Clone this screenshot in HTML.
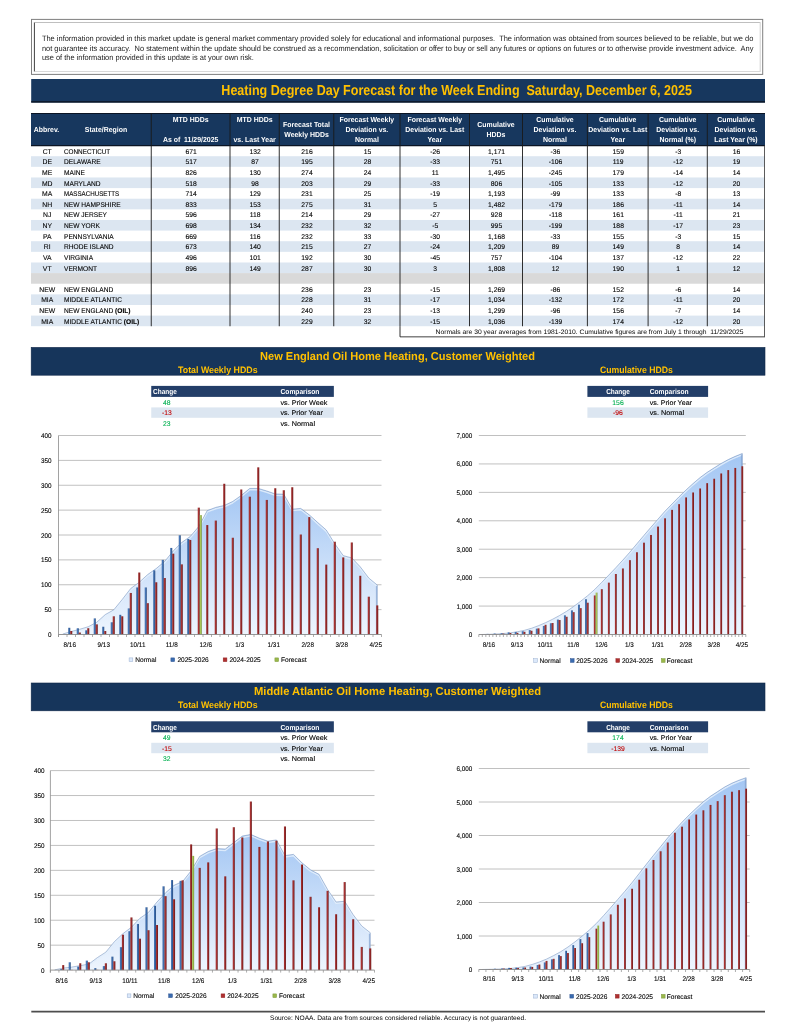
<!DOCTYPE html>
<html lang="en"><head><meta charset="utf-8"><title>Heating Degree Day Forecast</title>
<style>
html,body{margin:0;padding:0;background:#fff;}
body{width:800px;height:1035px;overflow:hidden;}
svg{display:block;font-family:"Liberation Sans", sans-serif;}
text{font-family:"Liberation Sans", sans-serif;}
</style></head><body>
<svg width="800" height="1035" viewBox="0 0 800 1035" text-rendering="geometricPrecision">
<rect x="31.50" y="19.40" width="731.20" height="55.00" fill="none" stroke="#7f7f7f" stroke-width="1"/>
<line x1="34.40" y1="22.20" x2="34.40" y2="71.80" stroke="#404040" stroke-width="1" />
<line x1="34.40" y1="22.50" x2="760.20" y2="22.50" stroke="#bfbfbf" stroke-width="1" />
<line x1="760.20" y1="22.20" x2="760.20" y2="71.80" stroke="#d0d0d0" stroke-width="1" />
<line x1="34.40" y1="71.50" x2="760.20" y2="71.50" stroke="#d9d9d9" stroke-width="1" />
<text x="41.90" y="40.60" font-size="7.8" fill="#1a1a1a" textLength="711.50" lengthAdjust="spacingAndGlyphs" xml:space="preserve">The information provided in this market update is general market commentary provided solely for educational and informational purposes.  The information was obtained from sources believed to be reliable, but we do</text>
<text x="41.90" y="50.70" font-size="7.8" fill="#1a1a1a" textLength="711.50" lengthAdjust="spacingAndGlyphs" xml:space="preserve">not guarantee its accuracy.  No statement within the update should be construed as a recommendation, solicitation or offer to buy or sell any futures or options on futures or to otherwise provide investment advice.  Any</text>
<text x="41.90" y="59.80" font-size="7.8" fill="#1a1a1a" textLength="212.00" lengthAdjust="spacingAndGlyphs" xml:space="preserve">use of the information provided in this update is at your own risk.</text>
<rect x="31.20" y="79.00" width="733.80" height="23.50" fill="#17375e" />
<rect x="31.20" y="101.20" width="733.80" height="1.40" fill="#0a1424" />
<text x="456.60" y="95.40" font-size="14.4" font-weight="bold" fill="#ffc000" text-anchor="middle" textLength="470.50" lengthAdjust="spacingAndGlyphs" xml:space="preserve">Heating Degree Day Forecast for the Week Ending  Saturday, December 6, 2025</text>
<rect x="31.00" y="113.50" width="734.00" height="32.10" fill="#17375e" />
<line x1="31.00" y1="113.50" x2="765.00" y2="113.50" stroke="#0a1424" stroke-width="1.2" />
<line x1="31.00" y1="145.60" x2="765.00" y2="145.60" stroke="#0a1424" stroke-width="1.2" />
<rect x="31.00" y="156.22" width="734.00" height="10.62" fill="#dce6f1" />
<rect x="31.00" y="177.47" width="734.00" height="10.62" fill="#dce6f1" />
<rect x="31.00" y="198.72" width="734.00" height="10.62" fill="#dce6f1" />
<rect x="31.00" y="219.97" width="734.00" height="10.62" fill="#dce6f1" />
<rect x="31.00" y="241.22" width="734.00" height="10.62" fill="#dce6f1" />
<rect x="31.00" y="262.48" width="734.00" height="10.62" fill="#dce6f1" />
<rect x="31.00" y="273.10" width="734.00" height="10.62" fill="#d9d9d9" />
<rect x="31.00" y="294.35" width="734.00" height="10.62" fill="#dce6f1" />
<rect x="31.00" y="315.60" width="734.00" height="10.62" fill="#dce6f1" />
<text transform="translate(47.20 153.70) scale(0.99 1)" font-size="6.9" text-anchor="middle" stroke="#000" stroke-width="0.1" xml:space="preserve">CT</text>
<text transform="translate(64.00 153.70) scale(0.96 1)" font-size="6.9" textLength="48.13" lengthAdjust="spacingAndGlyphs" stroke="#000" stroke-width="0.1" xml:space="preserve">CONNECTICUT</text>
<text transform="translate(191.12 153.70) scale(0.98 1)" font-size="6.9" text-anchor="middle" stroke="#000" stroke-width="0.1" xml:space="preserve">671</text>
<text transform="translate(255.12 153.70) scale(0.98 1)" font-size="6.9" text-anchor="middle" stroke="#000" stroke-width="0.1" xml:space="preserve">132</text>
<text transform="translate(307.00 153.70) scale(0.98 1)" font-size="6.9" text-anchor="middle" stroke="#000" stroke-width="0.1" xml:space="preserve">216</text>
<text transform="translate(367.38 153.70) scale(0.98 1)" font-size="6.9" text-anchor="middle" stroke="#000" stroke-width="0.1" xml:space="preserve">15</text>
<text transform="translate(435.25 153.70) scale(0.98 1)" font-size="6.9" text-anchor="middle" stroke="#000" stroke-width="0.1" xml:space="preserve">-26</text>
<text transform="translate(496.50 153.70) scale(0.98 1)" font-size="6.9" text-anchor="middle" stroke="#000" stroke-width="0.1" xml:space="preserve">1,171</text>
<text transform="translate(555.45 153.70) scale(0.98 1)" font-size="6.9" text-anchor="middle" stroke="#000" stroke-width="0.1" xml:space="preserve">-36</text>
<text transform="translate(618.25 153.70) scale(0.98 1)" font-size="6.9" text-anchor="middle" stroke="#000" stroke-width="0.1" xml:space="preserve">159</text>
<text transform="translate(678.20 153.70) scale(0.98 1)" font-size="6.9" text-anchor="middle" stroke="#000" stroke-width="0.1" xml:space="preserve">-3</text>
<text transform="translate(736.40 153.70) scale(0.98 1)" font-size="6.9" text-anchor="middle" stroke="#000" stroke-width="0.1" xml:space="preserve">16</text>
<text transform="translate(47.20 164.32) scale(0.99 1)" font-size="6.9" text-anchor="middle" stroke="#000" stroke-width="0.1" xml:space="preserve">DE</text>
<text transform="translate(64.00 164.32) scale(0.96 1)" font-size="6.9" stroke="#000" stroke-width="0.1" xml:space="preserve">DELAWARE</text>
<text transform="translate(191.12 164.32) scale(0.98 1)" font-size="6.9" text-anchor="middle" stroke="#000" stroke-width="0.1" xml:space="preserve">517</text>
<text transform="translate(255.12 164.32) scale(0.98 1)" font-size="6.9" text-anchor="middle" stroke="#000" stroke-width="0.1" xml:space="preserve">87</text>
<text transform="translate(307.00 164.32) scale(0.98 1)" font-size="6.9" text-anchor="middle" stroke="#000" stroke-width="0.1" xml:space="preserve">195</text>
<text transform="translate(367.38 164.32) scale(0.98 1)" font-size="6.9" text-anchor="middle" stroke="#000" stroke-width="0.1" xml:space="preserve">28</text>
<text transform="translate(435.25 164.32) scale(0.98 1)" font-size="6.9" text-anchor="middle" stroke="#000" stroke-width="0.1" xml:space="preserve">-33</text>
<text transform="translate(496.50 164.32) scale(0.98 1)" font-size="6.9" text-anchor="middle" stroke="#000" stroke-width="0.1" xml:space="preserve">751</text>
<text transform="translate(555.45 164.32) scale(0.98 1)" font-size="6.9" text-anchor="middle" stroke="#000" stroke-width="0.1" xml:space="preserve">-106</text>
<text transform="translate(618.25 164.32) scale(0.98 1)" font-size="6.9" text-anchor="middle" stroke="#000" stroke-width="0.1" xml:space="preserve">119</text>
<text transform="translate(678.20 164.32) scale(0.98 1)" font-size="6.9" text-anchor="middle" stroke="#000" stroke-width="0.1" xml:space="preserve">-12</text>
<text transform="translate(736.40 164.32) scale(0.98 1)" font-size="6.9" text-anchor="middle" stroke="#000" stroke-width="0.1" xml:space="preserve">19</text>
<text transform="translate(47.20 174.95) scale(0.99 1)" font-size="6.9" text-anchor="middle" stroke="#000" stroke-width="0.1" xml:space="preserve">ME</text>
<text transform="translate(64.00 174.95) scale(0.96 1)" font-size="6.9" stroke="#000" stroke-width="0.1" xml:space="preserve">MAINE</text>
<text transform="translate(191.12 174.95) scale(0.98 1)" font-size="6.9" text-anchor="middle" stroke="#000" stroke-width="0.1" xml:space="preserve">826</text>
<text transform="translate(255.12 174.95) scale(0.98 1)" font-size="6.9" text-anchor="middle" stroke="#000" stroke-width="0.1" xml:space="preserve">130</text>
<text transform="translate(307.00 174.95) scale(0.98 1)" font-size="6.9" text-anchor="middle" stroke="#000" stroke-width="0.1" xml:space="preserve">274</text>
<text transform="translate(367.38 174.95) scale(0.98 1)" font-size="6.9" text-anchor="middle" stroke="#000" stroke-width="0.1" xml:space="preserve">24</text>
<text transform="translate(435.25 174.95) scale(0.98 1)" font-size="6.9" text-anchor="middle" stroke="#000" stroke-width="0.1" xml:space="preserve">11</text>
<text transform="translate(496.50 174.95) scale(0.98 1)" font-size="6.9" text-anchor="middle" stroke="#000" stroke-width="0.1" xml:space="preserve">1,495</text>
<text transform="translate(555.45 174.95) scale(0.98 1)" font-size="6.9" text-anchor="middle" stroke="#000" stroke-width="0.1" xml:space="preserve">-245</text>
<text transform="translate(618.25 174.95) scale(0.98 1)" font-size="6.9" text-anchor="middle" stroke="#000" stroke-width="0.1" xml:space="preserve">179</text>
<text transform="translate(678.20 174.95) scale(0.98 1)" font-size="6.9" text-anchor="middle" stroke="#000" stroke-width="0.1" xml:space="preserve">-14</text>
<text transform="translate(736.40 174.95) scale(0.98 1)" font-size="6.9" text-anchor="middle" stroke="#000" stroke-width="0.1" xml:space="preserve">14</text>
<text transform="translate(47.20 185.57) scale(0.99 1)" font-size="6.9" text-anchor="middle" stroke="#000" stroke-width="0.1" xml:space="preserve">MD</text>
<text transform="translate(64.00 185.57) scale(0.96 1)" font-size="6.9" stroke="#000" stroke-width="0.1" xml:space="preserve">MARYLAND</text>
<text transform="translate(191.12 185.57) scale(0.98 1)" font-size="6.9" text-anchor="middle" stroke="#000" stroke-width="0.1" xml:space="preserve">518</text>
<text transform="translate(255.12 185.57) scale(0.98 1)" font-size="6.9" text-anchor="middle" stroke="#000" stroke-width="0.1" xml:space="preserve">98</text>
<text transform="translate(307.00 185.57) scale(0.98 1)" font-size="6.9" text-anchor="middle" stroke="#000" stroke-width="0.1" xml:space="preserve">203</text>
<text transform="translate(367.38 185.57) scale(0.98 1)" font-size="6.9" text-anchor="middle" stroke="#000" stroke-width="0.1" xml:space="preserve">29</text>
<text transform="translate(435.25 185.57) scale(0.98 1)" font-size="6.9" text-anchor="middle" stroke="#000" stroke-width="0.1" xml:space="preserve">-33</text>
<text transform="translate(496.50 185.57) scale(0.98 1)" font-size="6.9" text-anchor="middle" stroke="#000" stroke-width="0.1" xml:space="preserve">806</text>
<text transform="translate(555.45 185.57) scale(0.98 1)" font-size="6.9" text-anchor="middle" stroke="#000" stroke-width="0.1" xml:space="preserve">-105</text>
<text transform="translate(618.25 185.57) scale(0.98 1)" font-size="6.9" text-anchor="middle" stroke="#000" stroke-width="0.1" xml:space="preserve">133</text>
<text transform="translate(678.20 185.57) scale(0.98 1)" font-size="6.9" text-anchor="middle" stroke="#000" stroke-width="0.1" xml:space="preserve">-12</text>
<text transform="translate(736.40 185.57) scale(0.98 1)" font-size="6.9" text-anchor="middle" stroke="#000" stroke-width="0.1" xml:space="preserve">20</text>
<text transform="translate(47.20 196.20) scale(0.99 1)" font-size="6.9" text-anchor="middle" stroke="#000" stroke-width="0.1" xml:space="preserve">MA</text>
<text transform="translate(64.00 196.20) scale(0.96 1)" font-size="6.9" textLength="57.50" lengthAdjust="spacingAndGlyphs" stroke="#000" stroke-width="0.1" xml:space="preserve">MASSACHUSETTS</text>
<text transform="translate(191.12 196.20) scale(0.98 1)" font-size="6.9" text-anchor="middle" stroke="#000" stroke-width="0.1" xml:space="preserve">714</text>
<text transform="translate(255.12 196.20) scale(0.98 1)" font-size="6.9" text-anchor="middle" stroke="#000" stroke-width="0.1" xml:space="preserve">129</text>
<text transform="translate(307.00 196.20) scale(0.98 1)" font-size="6.9" text-anchor="middle" stroke="#000" stroke-width="0.1" xml:space="preserve">231</text>
<text transform="translate(367.38 196.20) scale(0.98 1)" font-size="6.9" text-anchor="middle" stroke="#000" stroke-width="0.1" xml:space="preserve">25</text>
<text transform="translate(435.25 196.20) scale(0.98 1)" font-size="6.9" text-anchor="middle" stroke="#000" stroke-width="0.1" xml:space="preserve">-19</text>
<text transform="translate(496.50 196.20) scale(0.98 1)" font-size="6.9" text-anchor="middle" stroke="#000" stroke-width="0.1" xml:space="preserve">1,193</text>
<text transform="translate(555.45 196.20) scale(0.98 1)" font-size="6.9" text-anchor="middle" stroke="#000" stroke-width="0.1" xml:space="preserve">-99</text>
<text transform="translate(618.25 196.20) scale(0.98 1)" font-size="6.9" text-anchor="middle" stroke="#000" stroke-width="0.1" xml:space="preserve">133</text>
<text transform="translate(678.20 196.20) scale(0.98 1)" font-size="6.9" text-anchor="middle" stroke="#000" stroke-width="0.1" xml:space="preserve">-8</text>
<text transform="translate(736.40 196.20) scale(0.98 1)" font-size="6.9" text-anchor="middle" stroke="#000" stroke-width="0.1" xml:space="preserve">13</text>
<text transform="translate(47.20 206.82) scale(0.99 1)" font-size="6.9" text-anchor="middle" stroke="#000" stroke-width="0.1" xml:space="preserve">NH</text>
<text transform="translate(64.00 206.82) scale(0.96 1)" font-size="6.9" stroke="#000" stroke-width="0.1" xml:space="preserve">NEW HAMPSHIRE</text>
<text transform="translate(191.12 206.82) scale(0.98 1)" font-size="6.9" text-anchor="middle" stroke="#000" stroke-width="0.1" xml:space="preserve">833</text>
<text transform="translate(255.12 206.82) scale(0.98 1)" font-size="6.9" text-anchor="middle" stroke="#000" stroke-width="0.1" xml:space="preserve">153</text>
<text transform="translate(307.00 206.82) scale(0.98 1)" font-size="6.9" text-anchor="middle" stroke="#000" stroke-width="0.1" xml:space="preserve">275</text>
<text transform="translate(367.38 206.82) scale(0.98 1)" font-size="6.9" text-anchor="middle" stroke="#000" stroke-width="0.1" xml:space="preserve">31</text>
<text transform="translate(435.25 206.82) scale(0.98 1)" font-size="6.9" text-anchor="middle" stroke="#000" stroke-width="0.1" xml:space="preserve">5</text>
<text transform="translate(496.50 206.82) scale(0.98 1)" font-size="6.9" text-anchor="middle" stroke="#000" stroke-width="0.1" xml:space="preserve">1,482</text>
<text transform="translate(555.45 206.82) scale(0.98 1)" font-size="6.9" text-anchor="middle" stroke="#000" stroke-width="0.1" xml:space="preserve">-179</text>
<text transform="translate(618.25 206.82) scale(0.98 1)" font-size="6.9" text-anchor="middle" stroke="#000" stroke-width="0.1" xml:space="preserve">186</text>
<text transform="translate(678.20 206.82) scale(0.98 1)" font-size="6.9" text-anchor="middle" stroke="#000" stroke-width="0.1" xml:space="preserve">-11</text>
<text transform="translate(736.40 206.82) scale(0.98 1)" font-size="6.9" text-anchor="middle" stroke="#000" stroke-width="0.1" xml:space="preserve">14</text>
<text transform="translate(47.20 217.45) scale(0.99 1)" font-size="6.9" text-anchor="middle" stroke="#000" stroke-width="0.1" xml:space="preserve">NJ</text>
<text transform="translate(64.00 217.45) scale(0.96 1)" font-size="6.9" stroke="#000" stroke-width="0.1" xml:space="preserve">NEW JERSEY</text>
<text transform="translate(191.12 217.45) scale(0.98 1)" font-size="6.9" text-anchor="middle" stroke="#000" stroke-width="0.1" xml:space="preserve">596</text>
<text transform="translate(255.12 217.45) scale(0.98 1)" font-size="6.9" text-anchor="middle" stroke="#000" stroke-width="0.1" xml:space="preserve">118</text>
<text transform="translate(307.00 217.45) scale(0.98 1)" font-size="6.9" text-anchor="middle" stroke="#000" stroke-width="0.1" xml:space="preserve">214</text>
<text transform="translate(367.38 217.45) scale(0.98 1)" font-size="6.9" text-anchor="middle" stroke="#000" stroke-width="0.1" xml:space="preserve">29</text>
<text transform="translate(435.25 217.45) scale(0.98 1)" font-size="6.9" text-anchor="middle" stroke="#000" stroke-width="0.1" xml:space="preserve">-27</text>
<text transform="translate(496.50 217.45) scale(0.98 1)" font-size="6.9" text-anchor="middle" stroke="#000" stroke-width="0.1" xml:space="preserve">928</text>
<text transform="translate(555.45 217.45) scale(0.98 1)" font-size="6.9" text-anchor="middle" stroke="#000" stroke-width="0.1" xml:space="preserve">-118</text>
<text transform="translate(618.25 217.45) scale(0.98 1)" font-size="6.9" text-anchor="middle" stroke="#000" stroke-width="0.1" xml:space="preserve">161</text>
<text transform="translate(678.20 217.45) scale(0.98 1)" font-size="6.9" text-anchor="middle" stroke="#000" stroke-width="0.1" xml:space="preserve">-11</text>
<text transform="translate(736.40 217.45) scale(0.98 1)" font-size="6.9" text-anchor="middle" stroke="#000" stroke-width="0.1" xml:space="preserve">21</text>
<text transform="translate(47.20 228.07) scale(0.99 1)" font-size="6.9" text-anchor="middle" stroke="#000" stroke-width="0.1" xml:space="preserve">NY</text>
<text transform="translate(64.00 228.07) scale(0.96 1)" font-size="6.9" stroke="#000" stroke-width="0.1" xml:space="preserve">NEW YORK</text>
<text transform="translate(191.12 228.07) scale(0.98 1)" font-size="6.9" text-anchor="middle" stroke="#000" stroke-width="0.1" xml:space="preserve">698</text>
<text transform="translate(255.12 228.07) scale(0.98 1)" font-size="6.9" text-anchor="middle" stroke="#000" stroke-width="0.1" xml:space="preserve">134</text>
<text transform="translate(307.00 228.07) scale(0.98 1)" font-size="6.9" text-anchor="middle" stroke="#000" stroke-width="0.1" xml:space="preserve">232</text>
<text transform="translate(367.38 228.07) scale(0.98 1)" font-size="6.9" text-anchor="middle" stroke="#000" stroke-width="0.1" xml:space="preserve">32</text>
<text transform="translate(435.25 228.07) scale(0.98 1)" font-size="6.9" text-anchor="middle" stroke="#000" stroke-width="0.1" xml:space="preserve">-5</text>
<text transform="translate(496.50 228.07) scale(0.98 1)" font-size="6.9" text-anchor="middle" stroke="#000" stroke-width="0.1" xml:space="preserve">995</text>
<text transform="translate(555.45 228.07) scale(0.98 1)" font-size="6.9" text-anchor="middle" stroke="#000" stroke-width="0.1" xml:space="preserve">-199</text>
<text transform="translate(618.25 228.07) scale(0.98 1)" font-size="6.9" text-anchor="middle" stroke="#000" stroke-width="0.1" xml:space="preserve">188</text>
<text transform="translate(678.20 228.07) scale(0.98 1)" font-size="6.9" text-anchor="middle" stroke="#000" stroke-width="0.1" xml:space="preserve">-17</text>
<text transform="translate(736.40 228.07) scale(0.98 1)" font-size="6.9" text-anchor="middle" stroke="#000" stroke-width="0.1" xml:space="preserve">23</text>
<text transform="translate(47.20 238.70) scale(0.99 1)" font-size="6.9" text-anchor="middle" stroke="#000" stroke-width="0.1" xml:space="preserve">PA</text>
<text transform="translate(64.00 238.70) scale(0.96 1)" font-size="6.9" stroke="#000" stroke-width="0.1" xml:space="preserve">PENNSYLVANIA</text>
<text transform="translate(191.12 238.70) scale(0.98 1)" font-size="6.9" text-anchor="middle" stroke="#000" stroke-width="0.1" xml:space="preserve">669</text>
<text transform="translate(255.12 238.70) scale(0.98 1)" font-size="6.9" text-anchor="middle" stroke="#000" stroke-width="0.1" xml:space="preserve">116</text>
<text transform="translate(307.00 238.70) scale(0.98 1)" font-size="6.9" text-anchor="middle" stroke="#000" stroke-width="0.1" xml:space="preserve">232</text>
<text transform="translate(367.38 238.70) scale(0.98 1)" font-size="6.9" text-anchor="middle" stroke="#000" stroke-width="0.1" xml:space="preserve">33</text>
<text transform="translate(435.25 238.70) scale(0.98 1)" font-size="6.9" text-anchor="middle" stroke="#000" stroke-width="0.1" xml:space="preserve">-30</text>
<text transform="translate(496.50 238.70) scale(0.98 1)" font-size="6.9" text-anchor="middle" stroke="#000" stroke-width="0.1" xml:space="preserve">1,168</text>
<text transform="translate(555.45 238.70) scale(0.98 1)" font-size="6.9" text-anchor="middle" stroke="#000" stroke-width="0.1" xml:space="preserve">-33</text>
<text transform="translate(618.25 238.70) scale(0.98 1)" font-size="6.9" text-anchor="middle" stroke="#000" stroke-width="0.1" xml:space="preserve">155</text>
<text transform="translate(678.20 238.70) scale(0.98 1)" font-size="6.9" text-anchor="middle" stroke="#000" stroke-width="0.1" xml:space="preserve">-3</text>
<text transform="translate(736.40 238.70) scale(0.98 1)" font-size="6.9" text-anchor="middle" stroke="#000" stroke-width="0.1" xml:space="preserve">15</text>
<text transform="translate(47.20 249.32) scale(0.99 1)" font-size="6.9" text-anchor="middle" stroke="#000" stroke-width="0.1" xml:space="preserve">RI</text>
<text transform="translate(64.00 249.32) scale(0.96 1)" font-size="6.9" stroke="#000" stroke-width="0.1" xml:space="preserve">RHODE ISLAND</text>
<text transform="translate(191.12 249.32) scale(0.98 1)" font-size="6.9" text-anchor="middle" stroke="#000" stroke-width="0.1" xml:space="preserve">673</text>
<text transform="translate(255.12 249.32) scale(0.98 1)" font-size="6.9" text-anchor="middle" stroke="#000" stroke-width="0.1" xml:space="preserve">140</text>
<text transform="translate(307.00 249.32) scale(0.98 1)" font-size="6.9" text-anchor="middle" stroke="#000" stroke-width="0.1" xml:space="preserve">215</text>
<text transform="translate(367.38 249.32) scale(0.98 1)" font-size="6.9" text-anchor="middle" stroke="#000" stroke-width="0.1" xml:space="preserve">27</text>
<text transform="translate(435.25 249.32) scale(0.98 1)" font-size="6.9" text-anchor="middle" stroke="#000" stroke-width="0.1" xml:space="preserve">-24</text>
<text transform="translate(496.50 249.32) scale(0.98 1)" font-size="6.9" text-anchor="middle" stroke="#000" stroke-width="0.1" xml:space="preserve">1,209</text>
<text transform="translate(555.45 249.32) scale(0.98 1)" font-size="6.9" text-anchor="middle" stroke="#000" stroke-width="0.1" xml:space="preserve">89</text>
<text transform="translate(618.25 249.32) scale(0.98 1)" font-size="6.9" text-anchor="middle" stroke="#000" stroke-width="0.1" xml:space="preserve">149</text>
<text transform="translate(678.20 249.32) scale(0.98 1)" font-size="6.9" text-anchor="middle" stroke="#000" stroke-width="0.1" xml:space="preserve">8</text>
<text transform="translate(736.40 249.32) scale(0.98 1)" font-size="6.9" text-anchor="middle" stroke="#000" stroke-width="0.1" xml:space="preserve">14</text>
<text transform="translate(47.20 259.95) scale(0.99 1)" font-size="6.9" text-anchor="middle" stroke="#000" stroke-width="0.1" xml:space="preserve">VA</text>
<text transform="translate(64.00 259.95) scale(0.96 1)" font-size="6.9" stroke="#000" stroke-width="0.1" xml:space="preserve">VIRGINIA</text>
<text transform="translate(191.12 259.95) scale(0.98 1)" font-size="6.9" text-anchor="middle" stroke="#000" stroke-width="0.1" xml:space="preserve">496</text>
<text transform="translate(255.12 259.95) scale(0.98 1)" font-size="6.9" text-anchor="middle" stroke="#000" stroke-width="0.1" xml:space="preserve">101</text>
<text transform="translate(307.00 259.95) scale(0.98 1)" font-size="6.9" text-anchor="middle" stroke="#000" stroke-width="0.1" xml:space="preserve">192</text>
<text transform="translate(367.38 259.95) scale(0.98 1)" font-size="6.9" text-anchor="middle" stroke="#000" stroke-width="0.1" xml:space="preserve">30</text>
<text transform="translate(435.25 259.95) scale(0.98 1)" font-size="6.9" text-anchor="middle" stroke="#000" stroke-width="0.1" xml:space="preserve">-45</text>
<text transform="translate(496.50 259.95) scale(0.98 1)" font-size="6.9" text-anchor="middle" stroke="#000" stroke-width="0.1" xml:space="preserve">757</text>
<text transform="translate(555.45 259.95) scale(0.98 1)" font-size="6.9" text-anchor="middle" stroke="#000" stroke-width="0.1" xml:space="preserve">-104</text>
<text transform="translate(618.25 259.95) scale(0.98 1)" font-size="6.9" text-anchor="middle" stroke="#000" stroke-width="0.1" xml:space="preserve">137</text>
<text transform="translate(678.20 259.95) scale(0.98 1)" font-size="6.9" text-anchor="middle" stroke="#000" stroke-width="0.1" xml:space="preserve">-12</text>
<text transform="translate(736.40 259.95) scale(0.98 1)" font-size="6.9" text-anchor="middle" stroke="#000" stroke-width="0.1" xml:space="preserve">22</text>
<text transform="translate(47.20 270.58) scale(0.99 1)" font-size="6.9" text-anchor="middle" stroke="#000" stroke-width="0.1" xml:space="preserve">VT</text>
<text transform="translate(64.00 270.58) scale(0.96 1)" font-size="6.9" stroke="#000" stroke-width="0.1" xml:space="preserve">VERMONT</text>
<text transform="translate(191.12 270.58) scale(0.98 1)" font-size="6.9" text-anchor="middle" stroke="#000" stroke-width="0.1" xml:space="preserve">896</text>
<text transform="translate(255.12 270.58) scale(0.98 1)" font-size="6.9" text-anchor="middle" stroke="#000" stroke-width="0.1" xml:space="preserve">149</text>
<text transform="translate(307.00 270.58) scale(0.98 1)" font-size="6.9" text-anchor="middle" stroke="#000" stroke-width="0.1" xml:space="preserve">287</text>
<text transform="translate(367.38 270.58) scale(0.98 1)" font-size="6.9" text-anchor="middle" stroke="#000" stroke-width="0.1" xml:space="preserve">30</text>
<text transform="translate(435.25 270.58) scale(0.98 1)" font-size="6.9" text-anchor="middle" stroke="#000" stroke-width="0.1" xml:space="preserve">3</text>
<text transform="translate(496.50 270.58) scale(0.98 1)" font-size="6.9" text-anchor="middle" stroke="#000" stroke-width="0.1" xml:space="preserve">1,808</text>
<text transform="translate(555.45 270.58) scale(0.98 1)" font-size="6.9" text-anchor="middle" stroke="#000" stroke-width="0.1" xml:space="preserve">12</text>
<text transform="translate(618.25 270.58) scale(0.98 1)" font-size="6.9" text-anchor="middle" stroke="#000" stroke-width="0.1" xml:space="preserve">190</text>
<text transform="translate(678.20 270.58) scale(0.98 1)" font-size="6.9" text-anchor="middle" stroke="#000" stroke-width="0.1" xml:space="preserve">1</text>
<text transform="translate(736.40 270.58) scale(0.98 1)" font-size="6.9" text-anchor="middle" stroke="#000" stroke-width="0.1" xml:space="preserve">12</text>
<text transform="translate(47.20 291.83) scale(0.99 1)" font-size="6.9" text-anchor="middle" stroke="#000" stroke-width="0.1" xml:space="preserve">NEW</text>
<text transform="translate(64.00 291.83) scale(0.96 1)" font-size="6.9" stroke="#000" stroke-width="0.1" xml:space="preserve">NEW ENGLAND</text>
<text transform="translate(307.00 291.83) scale(0.98 1)" font-size="6.9" text-anchor="middle" stroke="#000" stroke-width="0.1" xml:space="preserve">236</text>
<text transform="translate(367.38 291.83) scale(0.98 1)" font-size="6.9" text-anchor="middle" stroke="#000" stroke-width="0.1" xml:space="preserve">23</text>
<text transform="translate(435.25 291.83) scale(0.98 1)" font-size="6.9" text-anchor="middle" stroke="#000" stroke-width="0.1" xml:space="preserve">-15</text>
<text transform="translate(496.50 291.83) scale(0.98 1)" font-size="6.9" text-anchor="middle" stroke="#000" stroke-width="0.1" xml:space="preserve">1,269</text>
<text transform="translate(555.45 291.83) scale(0.98 1)" font-size="6.9" text-anchor="middle" stroke="#000" stroke-width="0.1" xml:space="preserve">-86</text>
<text transform="translate(618.25 291.83) scale(0.98 1)" font-size="6.9" text-anchor="middle" stroke="#000" stroke-width="0.1" xml:space="preserve">152</text>
<text transform="translate(678.20 291.83) scale(0.98 1)" font-size="6.9" text-anchor="middle" stroke="#000" stroke-width="0.1" xml:space="preserve">-6</text>
<text transform="translate(736.40 291.83) scale(0.98 1)" font-size="6.9" text-anchor="middle" stroke="#000" stroke-width="0.1" xml:space="preserve">14</text>
<text transform="translate(47.20 302.45) scale(0.99 1)" font-size="6.9" text-anchor="middle" stroke="#000" stroke-width="0.1" xml:space="preserve">MIA</text>
<text transform="translate(64.00 302.45) scale(0.96 1)" font-size="6.9" stroke="#000" stroke-width="0.1" xml:space="preserve">MIDDLE ATLANTIC</text>
<text transform="translate(307.00 302.45) scale(0.98 1)" font-size="6.9" text-anchor="middle" stroke="#000" stroke-width="0.1" xml:space="preserve">228</text>
<text transform="translate(367.38 302.45) scale(0.98 1)" font-size="6.9" text-anchor="middle" stroke="#000" stroke-width="0.1" xml:space="preserve">31</text>
<text transform="translate(435.25 302.45) scale(0.98 1)" font-size="6.9" text-anchor="middle" stroke="#000" stroke-width="0.1" xml:space="preserve">-17</text>
<text transform="translate(496.50 302.45) scale(0.98 1)" font-size="6.9" text-anchor="middle" stroke="#000" stroke-width="0.1" xml:space="preserve">1,034</text>
<text transform="translate(555.45 302.45) scale(0.98 1)" font-size="6.9" text-anchor="middle" stroke="#000" stroke-width="0.1" xml:space="preserve">-132</text>
<text transform="translate(618.25 302.45) scale(0.98 1)" font-size="6.9" text-anchor="middle" stroke="#000" stroke-width="0.1" xml:space="preserve">172</text>
<text transform="translate(678.20 302.45) scale(0.98 1)" font-size="6.9" text-anchor="middle" stroke="#000" stroke-width="0.1" xml:space="preserve">-11</text>
<text transform="translate(736.40 302.45) scale(0.98 1)" font-size="6.9" text-anchor="middle" stroke="#000" stroke-width="0.1" xml:space="preserve">20</text>
<text transform="translate(47.20 313.08) scale(0.99 1)" font-size="6.9" text-anchor="middle" stroke="#000" stroke-width="0.1" xml:space="preserve">NEW</text>
<text transform="translate(64 313.08) scale(0.96 1)" font-size="6.9" stroke="#000" stroke-width="0.1" xml:space="preserve">NEW ENGLAND <tspan font-weight="bold">(OIL)</tspan></text>
<text transform="translate(307.00 313.08) scale(0.98 1)" font-size="6.9" text-anchor="middle" stroke="#000" stroke-width="0.1" xml:space="preserve">240</text>
<text transform="translate(367.38 313.08) scale(0.98 1)" font-size="6.9" text-anchor="middle" stroke="#000" stroke-width="0.1" xml:space="preserve">23</text>
<text transform="translate(435.25 313.08) scale(0.98 1)" font-size="6.9" text-anchor="middle" stroke="#000" stroke-width="0.1" xml:space="preserve">-13</text>
<text transform="translate(496.50 313.08) scale(0.98 1)" font-size="6.9" text-anchor="middle" stroke="#000" stroke-width="0.1" xml:space="preserve">1,299</text>
<text transform="translate(555.45 313.08) scale(0.98 1)" font-size="6.9" text-anchor="middle" stroke="#000" stroke-width="0.1" xml:space="preserve">-96</text>
<text transform="translate(618.25 313.08) scale(0.98 1)" font-size="6.9" text-anchor="middle" stroke="#000" stroke-width="0.1" xml:space="preserve">156</text>
<text transform="translate(678.20 313.08) scale(0.98 1)" font-size="6.9" text-anchor="middle" stroke="#000" stroke-width="0.1" xml:space="preserve">-7</text>
<text transform="translate(736.40 313.08) scale(0.98 1)" font-size="6.9" text-anchor="middle" stroke="#000" stroke-width="0.1" xml:space="preserve">14</text>
<text transform="translate(47.20 323.70) scale(0.99 1)" font-size="6.9" text-anchor="middle" stroke="#000" stroke-width="0.1" xml:space="preserve">MIA</text>
<text transform="translate(64 323.70) scale(0.96 1)" font-size="6.9" stroke="#000" stroke-width="0.1" xml:space="preserve">MIDDLE ATLANTIC <tspan font-weight="bold">(OIL)</tspan></text>
<text transform="translate(307.00 323.70) scale(0.98 1)" font-size="6.9" text-anchor="middle" stroke="#000" stroke-width="0.1" xml:space="preserve">229</text>
<text transform="translate(367.38 323.70) scale(0.98 1)" font-size="6.9" text-anchor="middle" stroke="#000" stroke-width="0.1" xml:space="preserve">32</text>
<text transform="translate(435.25 323.70) scale(0.98 1)" font-size="6.9" text-anchor="middle" stroke="#000" stroke-width="0.1" xml:space="preserve">-15</text>
<text transform="translate(496.50 323.70) scale(0.98 1)" font-size="6.9" text-anchor="middle" stroke="#000" stroke-width="0.1" xml:space="preserve">1,036</text>
<text transform="translate(555.45 323.70) scale(0.98 1)" font-size="6.9" text-anchor="middle" stroke="#000" stroke-width="0.1" xml:space="preserve">-139</text>
<text transform="translate(618.25 323.70) scale(0.98 1)" font-size="6.9" text-anchor="middle" stroke="#000" stroke-width="0.1" xml:space="preserve">174</text>
<text transform="translate(678.20 323.70) scale(0.98 1)" font-size="6.9" text-anchor="middle" stroke="#000" stroke-width="0.1" xml:space="preserve">-12</text>
<text transform="translate(736.40 323.70) scale(0.98 1)" font-size="6.9" text-anchor="middle" stroke="#000" stroke-width="0.1" xml:space="preserve">20</text>
<line x1="151.25" y1="113.50" x2="151.25" y2="326.23" stroke="#1a1a1a" stroke-width="0.9" />
<line x1="230.00" y1="113.50" x2="230.00" y2="326.23" stroke="#1a1a1a" stroke-width="0.9" />
<line x1="279.25" y1="113.50" x2="279.25" y2="326.23" stroke="#1a1a1a" stroke-width="0.9" />
<line x1="333.75" y1="113.50" x2="333.75" y2="326.23" stroke="#1a1a1a" stroke-width="0.9" />
<line x1="400.00" y1="113.50" x2="400.00" y2="326.23" stroke="#1a1a1a" stroke-width="0.9" />
<line x1="469.50" y1="113.50" x2="469.50" y2="326.23" stroke="#1a1a1a" stroke-width="0.9" />
<line x1="522.50" y1="113.50" x2="522.50" y2="326.23" stroke="#1a1a1a" stroke-width="0.9" />
<line x1="587.40" y1="113.50" x2="587.40" y2="326.23" stroke="#1a1a1a" stroke-width="0.9" />
<line x1="648.10" y1="113.50" x2="648.10" y2="326.23" stroke="#1a1a1a" stroke-width="0.9" />
<line x1="707.30" y1="113.50" x2="707.30" y2="326.23" stroke="#1a1a1a" stroke-width="0.9" />
<line x1="764.50" y1="145.60" x2="764.50" y2="336.85" stroke="#4a4a4a" stroke-width="0.9" />
<line x1="400.00" y1="336.85" x2="765.00" y2="336.85" stroke="#404040" stroke-width="1" />
<line x1="400.00" y1="326.23" x2="400.00" y2="336.85" stroke="#1a1a1a" stroke-width="0.9" />
<text transform="translate(46.50 132.40) scale(0.95 1)" font-size="7.3" font-weight="bold" fill="#fff" text-anchor="middle" xml:space="preserve">Abbrev.</text>
<text transform="translate(106.00 132.40) scale(0.95 1)" font-size="7.3" font-weight="bold" fill="#fff" text-anchor="middle" xml:space="preserve">State/Region</text>
<text transform="translate(190.62 121.50) scale(0.95 1)" font-size="7.3" font-weight="bold" fill="#fff" text-anchor="middle" xml:space="preserve">MTD HDDs</text>
<text transform="translate(190.62 131.90) scale(0.95 1)" font-size="7.3" font-weight="bold" fill="#fff" text-anchor="middle" xml:space="preserve"></text>
<text transform="translate(190.62 142.40) scale(0.95 1)" font-size="7.3" font-weight="bold" fill="#fff" text-anchor="middle" xml:space="preserve">As of  11/29/2025</text>
<text transform="translate(254.62 121.50) scale(0.95 1)" font-size="7.3" font-weight="bold" fill="#fff" text-anchor="middle" xml:space="preserve">MTD HDDs</text>
<text transform="translate(254.62 131.90) scale(0.95 1)" font-size="7.3" font-weight="bold" fill="#fff" text-anchor="middle" xml:space="preserve"></text>
<text transform="translate(254.62 142.40) scale(0.95 1)" font-size="7.3" font-weight="bold" fill="#fff" text-anchor="middle" xml:space="preserve">vs. Last Year</text>
<text transform="translate(306.50 126.80) scale(0.95 1)" font-size="7.3" font-weight="bold" fill="#fff" text-anchor="middle" xml:space="preserve">Forecast Total</text>
<text transform="translate(306.50 137.10) scale(0.95 1)" font-size="7.3" font-weight="bold" fill="#fff" text-anchor="middle" xml:space="preserve">Weekly HDDs</text>
<text transform="translate(366.88 121.50) scale(0.95 1)" font-size="7.3" font-weight="bold" fill="#fff" text-anchor="middle" xml:space="preserve">Forecast Weekly</text>
<text transform="translate(366.88 131.90) scale(0.95 1)" font-size="7.3" font-weight="bold" fill="#fff" text-anchor="middle" xml:space="preserve">Deviation vs.</text>
<text transform="translate(366.88 142.40) scale(0.95 1)" font-size="7.3" font-weight="bold" fill="#fff" text-anchor="middle" xml:space="preserve">Normal</text>
<text transform="translate(434.75 121.50) scale(0.95 1)" font-size="7.3" font-weight="bold" fill="#fff" text-anchor="middle" xml:space="preserve">Forecast Weekly</text>
<text transform="translate(434.75 131.90) scale(0.95 1)" font-size="7.3" font-weight="bold" fill="#fff" text-anchor="middle" xml:space="preserve">Deviation vs. Last</text>
<text transform="translate(434.75 142.40) scale(0.95 1)" font-size="7.3" font-weight="bold" fill="#fff" text-anchor="middle" xml:space="preserve">Year</text>
<text transform="translate(496.00 126.80) scale(0.95 1)" font-size="7.3" font-weight="bold" fill="#fff" text-anchor="middle" xml:space="preserve">Cumulative</text>
<text transform="translate(496.00 137.10) scale(0.95 1)" font-size="7.3" font-weight="bold" fill="#fff" text-anchor="middle" xml:space="preserve">HDDs</text>
<text transform="translate(554.95 121.50) scale(0.95 1)" font-size="7.3" font-weight="bold" fill="#fff" text-anchor="middle" xml:space="preserve">Cumulative</text>
<text transform="translate(554.95 131.90) scale(0.95 1)" font-size="7.3" font-weight="bold" fill="#fff" text-anchor="middle" xml:space="preserve">Deviation vs.</text>
<text transform="translate(554.95 142.40) scale(0.95 1)" font-size="7.3" font-weight="bold" fill="#fff" text-anchor="middle" xml:space="preserve">Normal</text>
<text transform="translate(617.75 121.50) scale(0.95 1)" font-size="7.3" font-weight="bold" fill="#fff" text-anchor="middle" xml:space="preserve">Cumulative</text>
<text transform="translate(617.75 131.90) scale(0.95 1)" font-size="7.3" font-weight="bold" fill="#fff" text-anchor="middle" xml:space="preserve">Deviation vs. Last</text>
<text transform="translate(617.75 142.40) scale(0.95 1)" font-size="7.3" font-weight="bold" fill="#fff" text-anchor="middle" xml:space="preserve">Year</text>
<text transform="translate(677.70 121.50) scale(0.95 1)" font-size="7.3" font-weight="bold" fill="#fff" text-anchor="middle" xml:space="preserve">Cumulative</text>
<text transform="translate(677.70 131.90) scale(0.95 1)" font-size="7.3" font-weight="bold" fill="#fff" text-anchor="middle" xml:space="preserve">Deviation vs.</text>
<text transform="translate(677.70 142.40) scale(0.95 1)" font-size="7.3" font-weight="bold" fill="#fff" text-anchor="middle" xml:space="preserve">Normal (%)</text>
<text transform="translate(735.90 121.50) scale(0.95 1)" font-size="7.3" font-weight="bold" fill="#fff" text-anchor="middle" xml:space="preserve">Cumulative</text>
<text transform="translate(735.90 131.90) scale(0.95 1)" font-size="7.3" font-weight="bold" fill="#fff" text-anchor="middle" xml:space="preserve">Deviation vs.</text>
<text transform="translate(735.90 142.40) scale(0.95 1)" font-size="7.3" font-weight="bold" fill="#fff" text-anchor="middle" xml:space="preserve">Last Year (%)</text>
<text x="743.60" y="334.23" font-size="6.5" text-anchor="end" textLength="308.00" lengthAdjust="spacingAndGlyphs" xml:space="preserve">Normals are 30 year averages from 1981-2010. Cumulative figures are from July 1 through  11/29/2025</text>
<rect x="31.20" y="347.40" width="733.80" height="27.80" fill="#16355b" stroke="#0f2748" stroke-width="0.6"/>
<text x="397.50" y="359.50" font-size="11.5" font-weight="bold" fill="#ffc000" text-anchor="middle" textLength="275.00" lengthAdjust="spacingAndGlyphs" xml:space="preserve">New England Oil Home Heating, Customer Weighted</text>
<text x="217.80" y="372.60" font-size="9.3" font-weight="bold" fill="#ffc000" text-anchor="middle" textLength="79.50" lengthAdjust="spacingAndGlyphs" xml:space="preserve">Total Weekly HDDs</text>
<text x="636.40" y="372.60" font-size="9.3" font-weight="bold" fill="#ffc000" text-anchor="middle" textLength="73.00" lengthAdjust="spacingAndGlyphs" xml:space="preserve">Cumulative HDDs</text>
<rect x="151.25" y="385.90" width="182.60" height="11.00" fill="#233e68" />
<text x="153.00" y="394.20" font-size="7.3" font-weight="bold" fill="#fff" textLength="23.75" lengthAdjust="spacingAndGlyphs" xml:space="preserve">Change</text>
<text x="280.50" y="394.20" font-size="7.3" font-weight="bold" fill="#fff" textLength="38.90" lengthAdjust="spacingAndGlyphs" xml:space="preserve">Comparison</text>
<rect x="151.25" y="407.40" width="182.60" height="10.40" fill="#dce6f1" />
<text transform="translate(166.80 404.90) scale(0.98 1)" font-size="6.9" fill="#00b050" text-anchor="middle" stroke="#00b050" stroke-width="0.1" xml:space="preserve">48</text>
<text x="280.50" y="404.90" font-size="6.8" textLength="47.00" lengthAdjust="spacingAndGlyphs" stroke="#000" stroke-width="0.1" xml:space="preserve">vs. Prior Week</text>
<text transform="translate(166.80 415.30) scale(0.98 1)" font-size="6.9" fill="#c00000" text-anchor="middle" stroke="#c00000" stroke-width="0.1" xml:space="preserve">-13</text>
<text x="280.50" y="415.30" font-size="6.8" textLength="42.30" lengthAdjust="spacingAndGlyphs" stroke="#000" stroke-width="0.1" xml:space="preserve">vs. Prior Year</text>
<text transform="translate(166.80 425.70) scale(0.98 1)" font-size="6.9" fill="#00b050" text-anchor="middle" stroke="#00b050" stroke-width="0.1" xml:space="preserve">23</text>
<text x="280.50" y="425.70" font-size="6.8" textLength="34.50" lengthAdjust="spacingAndGlyphs" stroke="#000" stroke-width="0.1" xml:space="preserve">vs. Normal</text>
<rect x="587.40" y="385.90" width="120.70" height="11.00" fill="#233e68" />
<text x="618.00" y="394.20" font-size="7.3" font-weight="bold" fill="#fff" text-anchor="middle" textLength="23.75" lengthAdjust="spacingAndGlyphs" xml:space="preserve">Change</text>
<text x="649.70" y="394.20" font-size="7.3" font-weight="bold" fill="#fff" textLength="38.90" lengthAdjust="spacingAndGlyphs" xml:space="preserve">Comparison</text>
<rect x="587.40" y="407.40" width="120.70" height="10.40" fill="#dce6f1" />
<text transform="translate(618.00 404.90) scale(0.98 1)" font-size="6.9" fill="#00b050" text-anchor="middle" stroke="#00b050" stroke-width="0.1" xml:space="preserve">156</text>
<text x="649.70" y="404.90" font-size="6.8" textLength="42.30" lengthAdjust="spacingAndGlyphs" stroke="#000" stroke-width="0.1" xml:space="preserve">vs. Prior Year</text>
<text transform="translate(618.00 415.30) scale(0.98 1)" font-size="6.9" fill="#c00000" text-anchor="middle" stroke="#c00000" stroke-width="0.1" xml:space="preserve">-96</text>
<text x="649.70" y="415.30" font-size="6.8" textLength="34.50" lengthAdjust="spacingAndGlyphs" stroke="#000" stroke-width="0.1" xml:space="preserve">vs. Normal</text>
<rect x="31.20" y="683.00" width="733.80" height="27.80" fill="#16355b" stroke="#0f2748" stroke-width="0.6"/>
<text x="397.50" y="695.10" font-size="11.5" font-weight="bold" fill="#ffc000" text-anchor="middle" textLength="287.00" lengthAdjust="spacingAndGlyphs" xml:space="preserve">Middle Atlantic Oil Home Heating, Customer Weighted</text>
<text x="217.80" y="708.20" font-size="9.3" font-weight="bold" fill="#ffc000" text-anchor="middle" textLength="79.50" lengthAdjust="spacingAndGlyphs" xml:space="preserve">Total Weekly HDDs</text>
<text x="636.40" y="708.20" font-size="9.3" font-weight="bold" fill="#ffc000" text-anchor="middle" textLength="73.00" lengthAdjust="spacingAndGlyphs" xml:space="preserve">Cumulative HDDs</text>
<rect x="151.25" y="721.30" width="182.60" height="11.00" fill="#233e68" />
<text x="153.00" y="729.60" font-size="7.3" font-weight="bold" fill="#fff" textLength="23.75" lengthAdjust="spacingAndGlyphs" xml:space="preserve">Change</text>
<text x="280.50" y="729.60" font-size="7.3" font-weight="bold" fill="#fff" textLength="38.90" lengthAdjust="spacingAndGlyphs" xml:space="preserve">Comparison</text>
<rect x="151.25" y="742.80" width="182.60" height="10.40" fill="#dce6f1" />
<text transform="translate(166.80 740.30) scale(0.98 1)" font-size="6.9" fill="#00b050" text-anchor="middle" stroke="#00b050" stroke-width="0.1" xml:space="preserve">49</text>
<text x="280.50" y="740.30" font-size="6.8" textLength="47.00" lengthAdjust="spacingAndGlyphs" stroke="#000" stroke-width="0.1" xml:space="preserve">vs. Prior Week</text>
<text transform="translate(166.80 750.70) scale(0.98 1)" font-size="6.9" fill="#c00000" text-anchor="middle" stroke="#c00000" stroke-width="0.1" xml:space="preserve">-15</text>
<text x="280.50" y="750.70" font-size="6.8" textLength="42.30" lengthAdjust="spacingAndGlyphs" stroke="#000" stroke-width="0.1" xml:space="preserve">vs. Prior Year</text>
<text transform="translate(166.80 761.10) scale(0.98 1)" font-size="6.9" fill="#00b050" text-anchor="middle" stroke="#00b050" stroke-width="0.1" xml:space="preserve">32</text>
<text x="280.50" y="761.10" font-size="6.8" textLength="34.50" lengthAdjust="spacingAndGlyphs" stroke="#000" stroke-width="0.1" xml:space="preserve">vs. Normal</text>
<rect x="587.40" y="721.30" width="120.70" height="11.00" fill="#233e68" />
<text x="618.00" y="729.60" font-size="7.3" font-weight="bold" fill="#fff" text-anchor="middle" textLength="23.75" lengthAdjust="spacingAndGlyphs" xml:space="preserve">Change</text>
<text x="649.70" y="729.60" font-size="7.3" font-weight="bold" fill="#fff" textLength="38.90" lengthAdjust="spacingAndGlyphs" xml:space="preserve">Comparison</text>
<rect x="587.40" y="742.80" width="120.70" height="10.40" fill="#dce6f1" />
<text transform="translate(618.00 740.30) scale(0.98 1)" font-size="6.9" fill="#00b050" text-anchor="middle" stroke="#00b050" stroke-width="0.1" xml:space="preserve">174</text>
<text x="649.70" y="740.30" font-size="6.8" textLength="42.30" lengthAdjust="spacingAndGlyphs" stroke="#000" stroke-width="0.1" xml:space="preserve">vs. Prior Year</text>
<text transform="translate(618.00 750.70) scale(0.98 1)" font-size="6.9" fill="#c00000" text-anchor="middle" stroke="#c00000" stroke-width="0.1" xml:space="preserve">-139</text>
<text x="649.70" y="750.70" font-size="6.8" textLength="34.50" lengthAdjust="spacingAndGlyphs" stroke="#000" stroke-width="0.1" xml:space="preserve">vs. Normal</text>
<defs>
<linearGradient id="gA" x1="0" y1="0" x2="0" y2="1"><stop offset="0" stop-color="#a3c6f3"/><stop offset="1" stop-color="#eef5fe"/></linearGradient>
<linearGradient id="gR" x1="0" y1="0" x2="1" y2="0"><stop offset="0" stop-color="#922222"/><stop offset="0.4" stop-color="#aa3232"/><stop offset="1" stop-color="#5c0e0e"/></linearGradient>
<linearGradient id="gB" x1="0" y1="0" x2="1" y2="0"><stop offset="0" stop-color="#33609f"/><stop offset="0.4" stop-color="#4576b8"/><stop offset="1" stop-color="#1f4274"/></linearGradient>
<linearGradient id="gG" x1="0" y1="0" x2="1" y2="0"><stop offset="0" stop-color="#9ab84a"/><stop offset="0.45" stop-color="#aac85a"/><stop offset="1" stop-color="#6e8a2a"/></linearGradient>
</defs>
<text transform="translate(51.60 637.00) scale(0.95 1)" font-size="6.7" text-anchor="end" stroke="#000" stroke-width="0.1" xml:space="preserve">0</text>
<line x1="58.50" y1="609.62" x2="381.50" y2="609.62" stroke="#ababab" stroke-width="0.75" />
<text transform="translate(51.60 612.12) scale(0.95 1)" font-size="6.7" text-anchor="end" stroke="#000" stroke-width="0.1" xml:space="preserve">50</text>
<line x1="58.50" y1="584.75" x2="381.50" y2="584.75" stroke="#ababab" stroke-width="0.75" />
<text transform="translate(51.60 587.25) scale(0.95 1)" font-size="6.7" text-anchor="end" stroke="#000" stroke-width="0.1" xml:space="preserve">100</text>
<line x1="58.50" y1="559.88" x2="381.50" y2="559.88" stroke="#ababab" stroke-width="0.75" />
<text transform="translate(51.60 562.38) scale(0.95 1)" font-size="6.7" text-anchor="end" stroke="#000" stroke-width="0.1" xml:space="preserve">150</text>
<line x1="58.50" y1="535.00" x2="381.50" y2="535.00" stroke="#ababab" stroke-width="0.75" />
<text transform="translate(51.60 537.50) scale(0.95 1)" font-size="6.7" text-anchor="end" stroke="#000" stroke-width="0.1" xml:space="preserve">200</text>
<line x1="58.50" y1="510.12" x2="381.50" y2="510.12" stroke="#ababab" stroke-width="0.75" />
<text transform="translate(51.60 512.62) scale(0.95 1)" font-size="6.7" text-anchor="end" stroke="#000" stroke-width="0.1" xml:space="preserve">250</text>
<line x1="58.50" y1="485.25" x2="381.50" y2="485.25" stroke="#ababab" stroke-width="0.75" />
<text transform="translate(51.60 487.75) scale(0.95 1)" font-size="6.7" text-anchor="end" stroke="#000" stroke-width="0.1" xml:space="preserve">300</text>
<line x1="58.50" y1="460.38" x2="381.50" y2="460.38" stroke="#ababab" stroke-width="0.75" />
<text transform="translate(51.60 462.88) scale(0.95 1)" font-size="6.7" text-anchor="end" stroke="#000" stroke-width="0.1" xml:space="preserve">350</text>
<line x1="58.50" y1="435.50" x2="381.50" y2="435.50" stroke="#ababab" stroke-width="0.75" />
<text transform="translate(51.60 438.00) scale(0.95 1)" font-size="6.7" text-anchor="end" stroke="#000" stroke-width="0.1" xml:space="preserve">400</text>
<path d="M62.75,634.50 L62.75,634.00 L71.25,631.51 L79.75,629.28 L88.25,626.74 L96.75,622.26 L105.25,614.60 L113.75,609.87 L122.25,599.43 L130.75,588.48 L139.25,582.26 L147.75,574.50 L156.25,568.53 L164.75,561.37 L173.25,550.92 L181.75,542.46 L190.25,536.49 L198.75,526.54 L207.25,510.62 L215.75,507.39 L224.25,505.45 L232.75,501.42 L241.25,495.45 L249.75,488.43 L258.25,488.43 L266.75,490.97 L275.25,493.96 L283.75,494.21 L292.25,509.13 L300.75,508.43 L309.25,514.85 L317.75,522.56 L326.25,530.02 L334.75,543.71 L343.25,555.65 L351.75,557.88 L360.25,566.84 L368.75,578.03 L377.25,585.05 L377.25,634.50 Z" fill="url(#gA)"/>
<clipPath id="c58_435"><path d="M62.75,634.50 L62.75,634.00 L71.25,631.51 L79.75,629.28 L88.25,626.74 L96.75,622.26 L105.25,614.60 L113.75,609.87 L122.25,599.43 L130.75,588.48 L139.25,582.26 L147.75,574.50 L156.25,568.53 L164.75,561.37 L173.25,550.92 L181.75,542.46 L190.25,536.49 L198.75,526.54 L207.25,510.62 L215.75,507.39 L224.25,505.45 L232.75,501.42 L241.25,495.45 L249.75,488.43 L258.25,488.43 L266.75,490.97 L275.25,493.96 L283.75,494.21 L292.25,509.13 L300.75,508.43 L309.25,514.85 L317.75,522.56 L326.25,530.02 L334.75,543.71 L343.25,555.65 L351.75,557.88 L360.25,566.84 L368.75,578.03 L377.25,585.05 L377.25,634.50 Z"/></clipPath>
<path d="M62.75,635.30 L71.25,632.81 L79.75,630.58 L88.25,628.04 L96.75,623.56 L105.25,615.90 L113.75,611.17 L122.25,600.73 L130.75,589.78 L139.25,583.56 L147.75,575.80 L156.25,569.83 L164.75,562.67 L173.25,552.22 L181.75,543.76 L190.25,537.79 L198.75,527.84 L207.25,511.92 L215.75,508.69 L224.25,506.75 L232.75,502.72 L241.25,496.75 L249.75,489.73 L258.25,489.73 L266.75,492.27 L275.25,495.26 L283.75,495.51 L292.25,510.43 L300.75,509.73 L309.25,516.15 L317.75,523.86 L326.25,531.32 L334.75,545.01 L343.25,556.95 L351.75,559.18 L360.25,568.14 L368.75,579.33 L377.25,586.35" fill="none" stroke="#e3eefc" stroke-opacity="0.85" stroke-width="1.5" stroke-linejoin="round" clip-path="url(#c58_435)"/>
<line x1="376.55" y1="586.05" x2="376.55" y2="634.50" stroke="#86a6d4" stroke-opacity="0.7" stroke-width="1.3"/>
<path d="M62.75,634.00 L71.25,631.51 L79.75,629.28 L88.25,626.74 L96.75,622.26 L105.25,614.60 L113.75,609.87 L122.25,599.43 L130.75,588.48 L139.25,582.26 L147.75,574.50 L156.25,568.53 L164.75,561.37 L173.25,550.92 L181.75,542.46 L190.25,536.49 L198.75,526.54 L207.25,510.62 L215.75,507.39 L224.25,505.45 L232.75,501.42 L241.25,495.45 L249.75,488.43 L258.25,488.43 L266.75,490.97 L275.25,493.96 L283.75,494.21 L292.25,509.13 L300.75,508.43 L309.25,514.85 L317.75,522.56 L326.25,530.02 L334.75,543.71 L343.25,555.65 L351.75,557.88 L360.25,566.84 L368.75,578.03 L377.25,585.05 L377.25,634.50" fill="none" stroke="#7f9bc2" stroke-width="0.6" stroke-linejoin="round"/>
<rect x="68.25" y="627.78" width="2.00" height="6.72" fill="url(#gB)" />
<rect x="76.75" y="628.23" width="2.00" height="6.27" fill="url(#gB)" />
<rect x="85.25" y="630.32" width="2.00" height="4.18" fill="url(#gB)" />
<rect x="93.75" y="618.38" width="2.00" height="16.12" fill="url(#gB)" />
<rect x="102.25" y="626.74" width="2.00" height="7.76" fill="url(#gB)" />
<rect x="110.75" y="622.26" width="2.00" height="12.24" fill="url(#gB)" />
<rect x="119.25" y="614.80" width="2.00" height="19.70" fill="url(#gB)" />
<rect x="127.75" y="608.38" width="2.00" height="26.12" fill="url(#gB)" />
<rect x="136.25" y="587.44" width="2.00" height="47.06" fill="url(#gB)" />
<rect x="144.75" y="587.44" width="2.00" height="47.06" fill="url(#gB)" />
<rect x="153.25" y="570.32" width="2.00" height="64.18" fill="url(#gB)" />
<rect x="161.75" y="559.88" width="2.00" height="74.62" fill="url(#gB)" />
<rect x="170.25" y="547.93" width="2.00" height="86.57" fill="url(#gB)" />
<rect x="178.75" y="535.25" width="2.00" height="99.25" fill="url(#gB)" />
<rect x="187.25" y="538.98" width="2.00" height="95.52" fill="url(#gB)" />
<rect x="70.25" y="631.02" width="2.00" height="3.48" fill="url(#gR)" />
<rect x="78.75" y="632.51" width="2.00" height="1.99" fill="url(#gR)" />
<rect x="87.25" y="628.23" width="2.00" height="6.27" fill="url(#gR)" />
<rect x="95.75" y="624.35" width="2.00" height="10.15" fill="url(#gR)" />
<rect x="104.25" y="631.02" width="2.00" height="3.48" fill="url(#gR)" />
<rect x="112.75" y="616.29" width="2.00" height="18.21" fill="url(#gR)" />
<rect x="121.25" y="616.29" width="2.00" height="18.21" fill="url(#gR)" />
<rect x="129.75" y="592.96" width="2.00" height="41.54" fill="url(#gR)" />
<rect x="138.25" y="572.51" width="2.00" height="61.99" fill="url(#gR)" />
<rect x="146.75" y="603.16" width="2.00" height="31.34" fill="url(#gR)" />
<rect x="155.25" y="582.26" width="2.00" height="52.24" fill="url(#gR)" />
<rect x="163.75" y="578.03" width="2.00" height="56.47" fill="url(#gR)" />
<rect x="172.25" y="553.66" width="2.00" height="80.84" fill="url(#gR)" />
<rect x="180.75" y="564.35" width="2.00" height="70.15" fill="url(#gR)" />
<rect x="189.25" y="539.98" width="2.00" height="94.52" fill="url(#gR)" />
<rect x="197.75" y="507.64" width="2.00" height="126.86" fill="url(#gR)" />
<rect x="206.25" y="525.05" width="2.00" height="109.45" fill="url(#gR)" />
<rect x="214.75" y="520.57" width="2.00" height="113.93" fill="url(#gR)" />
<rect x="223.25" y="483.76" width="2.00" height="150.74" fill="url(#gR)" />
<rect x="231.75" y="537.74" width="2.00" height="96.76" fill="url(#gR)" />
<rect x="240.25" y="489.48" width="2.00" height="145.02" fill="url(#gR)" />
<rect x="248.75" y="496.69" width="2.00" height="137.81" fill="url(#gR)" />
<rect x="257.25" y="467.34" width="2.00" height="167.16" fill="url(#gR)" />
<rect x="265.75" y="499.93" width="2.00" height="134.57" fill="url(#gR)" />
<rect x="274.25" y="488.24" width="2.00" height="146.26" fill="url(#gR)" />
<rect x="282.75" y="490.23" width="2.00" height="144.27" fill="url(#gR)" />
<rect x="291.25" y="487.24" width="2.00" height="147.26" fill="url(#gR)" />
<rect x="299.75" y="534.50" width="2.00" height="100.00" fill="url(#gR)" />
<rect x="308.25" y="517.09" width="2.00" height="117.41" fill="url(#gR)" />
<rect x="316.75" y="548.18" width="2.00" height="86.32" fill="url(#gR)" />
<rect x="325.25" y="564.60" width="2.00" height="69.90" fill="url(#gR)" />
<rect x="333.75" y="541.72" width="2.00" height="92.78" fill="url(#gR)" />
<rect x="342.25" y="557.39" width="2.00" height="77.11" fill="url(#gR)" />
<rect x="350.75" y="542.46" width="2.00" height="92.04" fill="url(#gR)" />
<rect x="359.25" y="575.79" width="2.00" height="58.71" fill="url(#gR)" />
<rect x="367.75" y="596.69" width="2.00" height="37.81" fill="url(#gR)" />
<rect x="376.25" y="605.40" width="2.00" height="29.10" fill="url(#gR)" />
<rect x="199.75" y="515.10" width="2.00" height="119.40" fill="url(#gG)" />
<line x1="58.50" y1="435.50" x2="58.50" y2="637.00" stroke="#8a8a8a" stroke-width="0.8" />
<line x1="58.50" y1="634.50" x2="381.50" y2="634.50" stroke="#8a8a8a" stroke-width="0.9" />
<line x1="58.50" y1="634.50" x2="58.50" y2="637.00" stroke="#8a8a8a" stroke-width="0.7" />
<line x1="67.00" y1="634.50" x2="67.00" y2="637.00" stroke="#8a8a8a" stroke-width="0.7" />
<line x1="75.50" y1="634.50" x2="75.50" y2="637.00" stroke="#8a8a8a" stroke-width="0.7" />
<line x1="84.00" y1="634.50" x2="84.00" y2="637.00" stroke="#8a8a8a" stroke-width="0.7" />
<line x1="92.50" y1="634.50" x2="92.50" y2="637.00" stroke="#8a8a8a" stroke-width="0.7" />
<line x1="101.00" y1="634.50" x2="101.00" y2="637.00" stroke="#8a8a8a" stroke-width="0.7" />
<line x1="109.50" y1="634.50" x2="109.50" y2="637.00" stroke="#8a8a8a" stroke-width="0.7" />
<line x1="118.00" y1="634.50" x2="118.00" y2="637.00" stroke="#8a8a8a" stroke-width="0.7" />
<line x1="126.50" y1="634.50" x2="126.50" y2="637.00" stroke="#8a8a8a" stroke-width="0.7" />
<line x1="135.00" y1="634.50" x2="135.00" y2="637.00" stroke="#8a8a8a" stroke-width="0.7" />
<line x1="143.50" y1="634.50" x2="143.50" y2="637.00" stroke="#8a8a8a" stroke-width="0.7" />
<line x1="152.00" y1="634.50" x2="152.00" y2="637.00" stroke="#8a8a8a" stroke-width="0.7" />
<line x1="160.50" y1="634.50" x2="160.50" y2="637.00" stroke="#8a8a8a" stroke-width="0.7" />
<line x1="169.00" y1="634.50" x2="169.00" y2="637.00" stroke="#8a8a8a" stroke-width="0.7" />
<line x1="177.50" y1="634.50" x2="177.50" y2="637.00" stroke="#8a8a8a" stroke-width="0.7" />
<line x1="186.00" y1="634.50" x2="186.00" y2="637.00" stroke="#8a8a8a" stroke-width="0.7" />
<line x1="194.50" y1="634.50" x2="194.50" y2="637.00" stroke="#8a8a8a" stroke-width="0.7" />
<line x1="203.00" y1="634.50" x2="203.00" y2="637.00" stroke="#8a8a8a" stroke-width="0.7" />
<line x1="211.50" y1="634.50" x2="211.50" y2="637.00" stroke="#8a8a8a" stroke-width="0.7" />
<line x1="220.00" y1="634.50" x2="220.00" y2="637.00" stroke="#8a8a8a" stroke-width="0.7" />
<line x1="228.50" y1="634.50" x2="228.50" y2="637.00" stroke="#8a8a8a" stroke-width="0.7" />
<line x1="237.00" y1="634.50" x2="237.00" y2="637.00" stroke="#8a8a8a" stroke-width="0.7" />
<line x1="245.50" y1="634.50" x2="245.50" y2="637.00" stroke="#8a8a8a" stroke-width="0.7" />
<line x1="254.00" y1="634.50" x2="254.00" y2="637.00" stroke="#8a8a8a" stroke-width="0.7" />
<line x1="262.50" y1="634.50" x2="262.50" y2="637.00" stroke="#8a8a8a" stroke-width="0.7" />
<line x1="271.00" y1="634.50" x2="271.00" y2="637.00" stroke="#8a8a8a" stroke-width="0.7" />
<line x1="279.50" y1="634.50" x2="279.50" y2="637.00" stroke="#8a8a8a" stroke-width="0.7" />
<line x1="288.00" y1="634.50" x2="288.00" y2="637.00" stroke="#8a8a8a" stroke-width="0.7" />
<line x1="296.50" y1="634.50" x2="296.50" y2="637.00" stroke="#8a8a8a" stroke-width="0.7" />
<line x1="305.00" y1="634.50" x2="305.00" y2="637.00" stroke="#8a8a8a" stroke-width="0.7" />
<line x1="313.50" y1="634.50" x2="313.50" y2="637.00" stroke="#8a8a8a" stroke-width="0.7" />
<line x1="322.00" y1="634.50" x2="322.00" y2="637.00" stroke="#8a8a8a" stroke-width="0.7" />
<line x1="330.50" y1="634.50" x2="330.50" y2="637.00" stroke="#8a8a8a" stroke-width="0.7" />
<line x1="339.00" y1="634.50" x2="339.00" y2="637.00" stroke="#8a8a8a" stroke-width="0.7" />
<line x1="347.50" y1="634.50" x2="347.50" y2="637.00" stroke="#8a8a8a" stroke-width="0.7" />
<line x1="356.00" y1="634.50" x2="356.00" y2="637.00" stroke="#8a8a8a" stroke-width="0.7" />
<line x1="364.50" y1="634.50" x2="364.50" y2="637.00" stroke="#8a8a8a" stroke-width="0.7" />
<line x1="373.00" y1="634.50" x2="373.00" y2="637.00" stroke="#8a8a8a" stroke-width="0.7" />
<line x1="381.50" y1="634.50" x2="381.50" y2="637.00" stroke="#8a8a8a" stroke-width="0.7" />
<text transform="translate(69.75 647.00) scale(0.95 1)" font-size="6.7" text-anchor="middle" stroke="#000" stroke-width="0.1" xml:space="preserve">8/16</text>
<text transform="translate(103.75 647.00) scale(0.95 1)" font-size="6.7" text-anchor="middle" stroke="#000" stroke-width="0.1" xml:space="preserve">9/13</text>
<text transform="translate(137.75 647.00) scale(0.95 1)" font-size="6.7" text-anchor="middle" stroke="#000" stroke-width="0.1" xml:space="preserve">10/11</text>
<text transform="translate(171.75 647.00) scale(0.95 1)" font-size="6.7" text-anchor="middle" stroke="#000" stroke-width="0.1" xml:space="preserve">11/8</text>
<text transform="translate(205.75 647.00) scale(0.95 1)" font-size="6.7" text-anchor="middle" stroke="#000" stroke-width="0.1" xml:space="preserve">12/6</text>
<text transform="translate(239.75 647.00) scale(0.95 1)" font-size="6.7" text-anchor="middle" stroke="#000" stroke-width="0.1" xml:space="preserve">1/3</text>
<text transform="translate(273.75 647.00) scale(0.95 1)" font-size="6.7" text-anchor="middle" stroke="#000" stroke-width="0.1" xml:space="preserve">1/31</text>
<text transform="translate(307.75 647.00) scale(0.95 1)" font-size="6.7" text-anchor="middle" stroke="#000" stroke-width="0.1" xml:space="preserve">2/28</text>
<text transform="translate(341.75 647.00) scale(0.95 1)" font-size="6.7" text-anchor="middle" stroke="#000" stroke-width="0.1" xml:space="preserve">3/28</text>
<text transform="translate(375.75 647.00) scale(0.95 1)" font-size="6.7" text-anchor="middle" stroke="#000" stroke-width="0.1" xml:space="preserve">4/25</text>
<rect x="129.10" y="657.90" width="3.70" height="3.70" fill="#dbe8fa" stroke="#9ab0d0" stroke-width="0.5"/>
<text transform="translate(135.30 662.30) scale(0.98 1)" font-size="6.7" stroke="#000" stroke-width="0.1" xml:space="preserve">Normal</text>
<rect x="170.90" y="657.90" width="3.70" height="3.70" fill="#3a6cb0" stroke="#2a5090" stroke-width="0.5"/>
<text transform="translate(177.40 662.30) scale(0.98 1)" font-size="6.7" stroke="#000" stroke-width="0.1" xml:space="preserve">2025-2026</text>
<rect x="223.20" y="657.90" width="3.70" height="3.70" fill="#b03030" stroke="#902020" stroke-width="0.5"/>
<text transform="translate(229.40 662.30) scale(0.98 1)" font-size="6.7" stroke="#000" stroke-width="0.1" xml:space="preserve">2024-2025</text>
<rect x="274.90" y="657.90" width="3.70" height="3.70" fill="#9ab84a" stroke="#7a983a" stroke-width="0.5"/>
<text transform="translate(281.00 662.30) scale(0.98 1)" font-size="6.7" stroke="#000" stroke-width="0.1" xml:space="preserve">Forecast</text>
<text transform="translate(472.30 637.00) scale(0.95 1)" font-size="6.7" text-anchor="end" stroke="#000" stroke-width="0.1" xml:space="preserve">0</text>
<line x1="478.80" y1="606.07" x2="745.80" y2="606.07" stroke="#ababab" stroke-width="0.75" />
<text transform="translate(472.30 608.57) scale(0.95 1)" font-size="6.7" text-anchor="end" stroke="#000" stroke-width="0.1" xml:space="preserve">1,000</text>
<line x1="478.80" y1="577.64" x2="745.80" y2="577.64" stroke="#ababab" stroke-width="0.75" />
<text transform="translate(472.30 580.14) scale(0.95 1)" font-size="6.7" text-anchor="end" stroke="#000" stroke-width="0.1" xml:space="preserve">2,000</text>
<line x1="478.80" y1="549.21" x2="745.80" y2="549.21" stroke="#ababab" stroke-width="0.75" />
<text transform="translate(472.30 551.71) scale(0.95 1)" font-size="6.7" text-anchor="end" stroke="#000" stroke-width="0.1" xml:space="preserve">3,000</text>
<line x1="478.80" y1="520.79" x2="745.80" y2="520.79" stroke="#ababab" stroke-width="0.75" />
<text transform="translate(472.30 523.29) scale(0.95 1)" font-size="6.7" text-anchor="end" stroke="#000" stroke-width="0.1" xml:space="preserve">4,000</text>
<line x1="478.80" y1="492.36" x2="745.80" y2="492.36" stroke="#ababab" stroke-width="0.75" />
<text transform="translate(472.30 494.86) scale(0.95 1)" font-size="6.7" text-anchor="end" stroke="#000" stroke-width="0.1" xml:space="preserve">5,000</text>
<line x1="478.80" y1="463.93" x2="745.80" y2="463.93" stroke="#ababab" stroke-width="0.75" />
<text transform="translate(472.30 466.43) scale(0.95 1)" font-size="6.7" text-anchor="end" stroke="#000" stroke-width="0.1" xml:space="preserve">6,000</text>
<line x1="478.80" y1="435.50" x2="745.80" y2="435.50" stroke="#ababab" stroke-width="0.75" />
<text transform="translate(472.30 438.00) scale(0.95 1)" font-size="6.7" text-anchor="end" stroke="#000" stroke-width="0.1" xml:space="preserve">7,000</text>
<path d="M482.31,634.50 L482.31,634.47 L489.34,634.30 L496.37,634.00 L503.39,633.56 L510.42,632.86 L517.44,631.72 L524.47,630.31 L531.50,628.30 L538.52,625.67 L545.55,622.68 L552.58,619.25 L559.60,615.48 L566.63,611.29 L573.66,606.51 L580.68,601.24 L587.71,595.64 L594.73,589.46 L601.76,582.37 L608.79,575.10 L615.81,567.72 L622.84,560.10 L629.87,552.15 L636.89,543.79 L643.92,535.43 L650.94,527.22 L657.97,519.18 L665.00,511.16 L672.02,503.98 L679.05,496.77 L686.08,489.93 L693.10,483.52 L700.13,477.54 L707.16,472.35 L714.18,467.84 L721.21,463.45 L728.23,459.58 L735.26,456.35 L742.29,453.52 L742.29,634.50 Z" fill="url(#gA)"/>
<clipPath id="c478_435"><path d="M482.31,634.50 L482.31,634.47 L489.34,634.30 L496.37,634.00 L503.39,633.56 L510.42,632.86 L517.44,631.72 L524.47,630.31 L531.50,628.30 L538.52,625.67 L545.55,622.68 L552.58,619.25 L559.60,615.48 L566.63,611.29 L573.66,606.51 L580.68,601.24 L587.71,595.64 L594.73,589.46 L601.76,582.37 L608.79,575.10 L615.81,567.72 L622.84,560.10 L629.87,552.15 L636.89,543.79 L643.92,535.43 L650.94,527.22 L657.97,519.18 L665.00,511.16 L672.02,503.98 L679.05,496.77 L686.08,489.93 L693.10,483.52 L700.13,477.54 L707.16,472.35 L714.18,467.84 L721.21,463.45 L728.23,459.58 L735.26,456.35 L742.29,453.52 L742.29,634.50 Z"/></clipPath>
<path d="M482.31,635.77 L489.34,635.60 L496.37,635.30 L503.39,634.86 L510.42,634.16 L517.44,633.02 L524.47,631.61 L531.50,629.60 L538.52,626.97 L545.55,623.98 L552.58,620.55 L559.60,616.78 L566.63,612.59 L573.66,607.81 L580.68,602.54 L587.71,596.94 L594.73,590.76 L601.76,583.67 L608.79,576.40 L615.81,569.02 L622.84,561.40 L629.87,553.45 L636.89,545.09 L643.92,536.73 L650.94,528.52 L657.97,520.48 L665.00,512.46 L672.02,505.28 L679.05,498.07 L686.08,491.23 L693.10,484.82 L700.13,478.84 L707.16,473.65 L714.18,469.14 L721.21,464.75 L728.23,460.88 L735.26,457.65 L742.29,454.82" fill="none" stroke="#e3eefc" stroke-opacity="0.85" stroke-width="1.5" stroke-linejoin="round" clip-path="url(#c478_435)"/>
<line x1="741.59" y1="454.52" x2="741.59" y2="634.50" stroke="#86a6d4" stroke-opacity="0.7" stroke-width="1.3"/>
<path d="M482.31,634.47 L489.34,634.30 L496.37,634.00 L503.39,633.56 L510.42,632.86 L517.44,631.72 L524.47,630.31 L531.50,628.30 L538.52,625.67 L545.55,622.68 L552.58,619.25 L559.60,615.48 L566.63,611.29 L573.66,606.51 L580.68,601.24 L587.71,595.64 L594.73,589.46 L601.76,582.37 L608.79,575.10 L615.81,567.72 L622.84,560.10 L629.87,552.15 L636.89,543.79 L643.92,535.43 L650.94,527.22 L657.97,519.18 L665.00,511.16 L672.02,503.98 L679.05,496.77 L686.08,489.93 L693.10,483.52 L700.13,477.54 L707.16,472.35 L714.18,467.84 L721.21,463.45 L728.23,459.58 L735.26,456.35 L742.29,453.52 L742.29,634.50" fill="none" stroke="#7f9bc2" stroke-width="0.6" stroke-linejoin="round"/>
<rect x="479.61" y="634.27" width="1.80" height="0.23" fill="url(#gB)" />
<rect x="486.64" y="633.89" width="1.80" height="0.61" fill="url(#gB)" />
<rect x="493.67" y="633.53" width="1.80" height="0.97" fill="url(#gB)" />
<rect x="500.69" y="633.29" width="1.80" height="1.21" fill="url(#gB)" />
<rect x="507.72" y="632.37" width="1.80" height="2.13" fill="url(#gB)" />
<rect x="514.74" y="631.93" width="1.80" height="2.57" fill="url(#gB)" />
<rect x="521.77" y="631.23" width="1.80" height="3.27" fill="url(#gB)" />
<rect x="528.80" y="630.10" width="1.80" height="4.40" fill="url(#gB)" />
<rect x="535.82" y="628.61" width="1.80" height="5.89" fill="url(#gB)" />
<rect x="542.85" y="625.92" width="1.80" height="8.58" fill="url(#gB)" />
<rect x="549.88" y="623.23" width="1.80" height="11.27" fill="url(#gB)" />
<rect x="556.90" y="619.56" width="1.80" height="14.94" fill="url(#gB)" />
<rect x="563.93" y="615.30" width="1.80" height="19.20" fill="url(#gB)" />
<rect x="570.96" y="610.35" width="1.80" height="24.15" fill="url(#gB)" />
<rect x="577.98" y="604.68" width="1.80" height="29.82" fill="url(#gB)" />
<rect x="585.01" y="599.22" width="1.80" height="35.28" fill="url(#gB)" />
<rect x="481.41" y="634.27" width="1.80" height="0.23" fill="url(#gR)" />
<rect x="488.44" y="634.07" width="1.80" height="0.43" fill="url(#gR)" />
<rect x="495.47" y="633.96" width="1.80" height="0.54" fill="url(#gR)" />
<rect x="502.49" y="633.60" width="1.80" height="0.90" fill="url(#gR)" />
<rect x="509.52" y="633.02" width="1.80" height="1.48" fill="url(#gR)" />
<rect x="516.54" y="632.82" width="1.80" height="1.68" fill="url(#gR)" />
<rect x="523.57" y="631.77" width="1.80" height="2.73" fill="url(#gR)" />
<rect x="530.60" y="630.73" width="1.80" height="3.77" fill="url(#gR)" />
<rect x="537.62" y="628.35" width="1.80" height="6.15" fill="url(#gR)" />
<rect x="544.65" y="624.80" width="1.80" height="9.70" fill="url(#gR)" />
<rect x="551.68" y="623.00" width="1.80" height="11.50" fill="url(#gR)" />
<rect x="558.70" y="620.01" width="1.80" height="14.49" fill="url(#gR)" />
<rect x="565.73" y="616.77" width="1.80" height="17.73" fill="url(#gR)" />
<rect x="572.76" y="612.14" width="1.80" height="22.36" fill="url(#gR)" />
<rect x="579.78" y="608.12" width="1.80" height="26.38" fill="url(#gR)" />
<rect x="586.81" y="602.71" width="1.80" height="31.79" fill="url(#gR)" />
<rect x="593.83" y="595.44" width="1.80" height="39.06" fill="url(#gR)" />
<rect x="600.86" y="589.17" width="1.80" height="45.33" fill="url(#gR)" />
<rect x="607.89" y="582.64" width="1.80" height="51.86" fill="url(#gR)" />
<rect x="614.91" y="574.00" width="1.80" height="60.50" fill="url(#gR)" />
<rect x="621.94" y="568.46" width="1.80" height="66.04" fill="url(#gR)" />
<rect x="628.97" y="560.15" width="1.80" height="74.35" fill="url(#gR)" />
<rect x="635.99" y="552.25" width="1.80" height="82.25" fill="url(#gR)" />
<rect x="643.02" y="542.67" width="1.80" height="91.83" fill="url(#gR)" />
<rect x="650.04" y="534.96" width="1.80" height="99.54" fill="url(#gR)" />
<rect x="657.07" y="526.58" width="1.80" height="107.92" fill="url(#gR)" />
<rect x="664.10" y="518.31" width="1.80" height="116.19" fill="url(#gR)" />
<rect x="671.12" y="509.87" width="1.80" height="124.63" fill="url(#gR)" />
<rect x="678.15" y="504.14" width="1.80" height="130.36" fill="url(#gR)" />
<rect x="685.18" y="497.42" width="1.80" height="137.08" fill="url(#gR)" />
<rect x="692.20" y="492.47" width="1.80" height="142.03" fill="url(#gR)" />
<rect x="699.23" y="488.47" width="1.80" height="146.03" fill="url(#gR)" />
<rect x="706.26" y="483.15" width="1.80" height="151.35" fill="url(#gR)" />
<rect x="713.28" y="478.73" width="1.80" height="155.77" fill="url(#gR)" />
<rect x="720.31" y="473.46" width="1.80" height="161.04" fill="url(#gR)" />
<rect x="727.33" y="470.09" width="1.80" height="164.41" fill="url(#gR)" />
<rect x="734.36" y="467.93" width="1.80" height="166.57" fill="url(#gR)" />
<rect x="741.39" y="466.26" width="1.80" height="168.24" fill="url(#gR)" />
<rect x="595.63" y="592.60" width="1.80" height="41.90" fill="url(#gG)" />
<line x1="478.80" y1="634.50" x2="745.80" y2="634.50" stroke="#8a8a8a" stroke-width="0.9" />
<line x1="478.80" y1="634.50" x2="478.80" y2="637.00" stroke="#8a8a8a" stroke-width="0.7" />
<line x1="482.31" y1="634.50" x2="482.31" y2="637.00" stroke="#8a8a8a" stroke-width="0.7" />
<line x1="485.83" y1="634.50" x2="485.83" y2="637.00" stroke="#8a8a8a" stroke-width="0.7" />
<line x1="489.34" y1="634.50" x2="489.34" y2="637.00" stroke="#8a8a8a" stroke-width="0.7" />
<line x1="492.85" y1="634.50" x2="492.85" y2="637.00" stroke="#8a8a8a" stroke-width="0.7" />
<line x1="496.37" y1="634.50" x2="496.37" y2="637.00" stroke="#8a8a8a" stroke-width="0.7" />
<line x1="499.88" y1="634.50" x2="499.88" y2="637.00" stroke="#8a8a8a" stroke-width="0.7" />
<line x1="503.39" y1="634.50" x2="503.39" y2="637.00" stroke="#8a8a8a" stroke-width="0.7" />
<line x1="506.91" y1="634.50" x2="506.91" y2="637.00" stroke="#8a8a8a" stroke-width="0.7" />
<line x1="510.42" y1="634.50" x2="510.42" y2="637.00" stroke="#8a8a8a" stroke-width="0.7" />
<line x1="513.93" y1="634.50" x2="513.93" y2="637.00" stroke="#8a8a8a" stroke-width="0.7" />
<line x1="517.44" y1="634.50" x2="517.44" y2="637.00" stroke="#8a8a8a" stroke-width="0.7" />
<line x1="520.96" y1="634.50" x2="520.96" y2="637.00" stroke="#8a8a8a" stroke-width="0.7" />
<line x1="524.47" y1="634.50" x2="524.47" y2="637.00" stroke="#8a8a8a" stroke-width="0.7" />
<line x1="527.98" y1="634.50" x2="527.98" y2="637.00" stroke="#8a8a8a" stroke-width="0.7" />
<line x1="531.50" y1="634.50" x2="531.50" y2="637.00" stroke="#8a8a8a" stroke-width="0.7" />
<line x1="535.01" y1="634.50" x2="535.01" y2="637.00" stroke="#8a8a8a" stroke-width="0.7" />
<line x1="538.52" y1="634.50" x2="538.52" y2="637.00" stroke="#8a8a8a" stroke-width="0.7" />
<line x1="542.04" y1="634.50" x2="542.04" y2="637.00" stroke="#8a8a8a" stroke-width="0.7" />
<line x1="545.55" y1="634.50" x2="545.55" y2="637.00" stroke="#8a8a8a" stroke-width="0.7" />
<line x1="549.06" y1="634.50" x2="549.06" y2="637.00" stroke="#8a8a8a" stroke-width="0.7" />
<line x1="552.58" y1="634.50" x2="552.58" y2="637.00" stroke="#8a8a8a" stroke-width="0.7" />
<line x1="556.09" y1="634.50" x2="556.09" y2="637.00" stroke="#8a8a8a" stroke-width="0.7" />
<line x1="559.60" y1="634.50" x2="559.60" y2="637.00" stroke="#8a8a8a" stroke-width="0.7" />
<line x1="563.12" y1="634.50" x2="563.12" y2="637.00" stroke="#8a8a8a" stroke-width="0.7" />
<line x1="566.63" y1="634.50" x2="566.63" y2="637.00" stroke="#8a8a8a" stroke-width="0.7" />
<line x1="570.14" y1="634.50" x2="570.14" y2="637.00" stroke="#8a8a8a" stroke-width="0.7" />
<line x1="573.66" y1="634.50" x2="573.66" y2="637.00" stroke="#8a8a8a" stroke-width="0.7" />
<line x1="577.17" y1="634.50" x2="577.17" y2="637.00" stroke="#8a8a8a" stroke-width="0.7" />
<line x1="580.68" y1="634.50" x2="580.68" y2="637.00" stroke="#8a8a8a" stroke-width="0.7" />
<line x1="584.19" y1="634.50" x2="584.19" y2="637.00" stroke="#8a8a8a" stroke-width="0.7" />
<line x1="587.71" y1="634.50" x2="587.71" y2="637.00" stroke="#8a8a8a" stroke-width="0.7" />
<line x1="591.22" y1="634.50" x2="591.22" y2="637.00" stroke="#8a8a8a" stroke-width="0.7" />
<line x1="594.73" y1="634.50" x2="594.73" y2="637.00" stroke="#8a8a8a" stroke-width="0.7" />
<line x1="598.25" y1="634.50" x2="598.25" y2="637.00" stroke="#8a8a8a" stroke-width="0.7" />
<line x1="601.76" y1="634.50" x2="601.76" y2="637.00" stroke="#8a8a8a" stroke-width="0.7" />
<line x1="605.27" y1="634.50" x2="605.27" y2="637.00" stroke="#8a8a8a" stroke-width="0.7" />
<line x1="608.79" y1="634.50" x2="608.79" y2="637.00" stroke="#8a8a8a" stroke-width="0.7" />
<line x1="612.30" y1="634.50" x2="612.30" y2="637.00" stroke="#8a8a8a" stroke-width="0.7" />
<line x1="615.81" y1="634.50" x2="615.81" y2="637.00" stroke="#8a8a8a" stroke-width="0.7" />
<line x1="619.33" y1="634.50" x2="619.33" y2="637.00" stroke="#8a8a8a" stroke-width="0.7" />
<line x1="622.84" y1="634.50" x2="622.84" y2="637.00" stroke="#8a8a8a" stroke-width="0.7" />
<line x1="626.35" y1="634.50" x2="626.35" y2="637.00" stroke="#8a8a8a" stroke-width="0.7" />
<line x1="629.87" y1="634.50" x2="629.87" y2="637.00" stroke="#8a8a8a" stroke-width="0.7" />
<line x1="633.38" y1="634.50" x2="633.38" y2="637.00" stroke="#8a8a8a" stroke-width="0.7" />
<line x1="636.89" y1="634.50" x2="636.89" y2="637.00" stroke="#8a8a8a" stroke-width="0.7" />
<line x1="640.41" y1="634.50" x2="640.41" y2="637.00" stroke="#8a8a8a" stroke-width="0.7" />
<line x1="643.92" y1="634.50" x2="643.92" y2="637.00" stroke="#8a8a8a" stroke-width="0.7" />
<line x1="647.43" y1="634.50" x2="647.43" y2="637.00" stroke="#8a8a8a" stroke-width="0.7" />
<line x1="650.94" y1="634.50" x2="650.94" y2="637.00" stroke="#8a8a8a" stroke-width="0.7" />
<line x1="654.46" y1="634.50" x2="654.46" y2="637.00" stroke="#8a8a8a" stroke-width="0.7" />
<line x1="657.97" y1="634.50" x2="657.97" y2="637.00" stroke="#8a8a8a" stroke-width="0.7" />
<line x1="661.48" y1="634.50" x2="661.48" y2="637.00" stroke="#8a8a8a" stroke-width="0.7" />
<line x1="665.00" y1="634.50" x2="665.00" y2="637.00" stroke="#8a8a8a" stroke-width="0.7" />
<line x1="668.51" y1="634.50" x2="668.51" y2="637.00" stroke="#8a8a8a" stroke-width="0.7" />
<line x1="672.02" y1="634.50" x2="672.02" y2="637.00" stroke="#8a8a8a" stroke-width="0.7" />
<line x1="675.54" y1="634.50" x2="675.54" y2="637.00" stroke="#8a8a8a" stroke-width="0.7" />
<line x1="679.05" y1="634.50" x2="679.05" y2="637.00" stroke="#8a8a8a" stroke-width="0.7" />
<line x1="682.56" y1="634.50" x2="682.56" y2="637.00" stroke="#8a8a8a" stroke-width="0.7" />
<line x1="686.08" y1="634.50" x2="686.08" y2="637.00" stroke="#8a8a8a" stroke-width="0.7" />
<line x1="689.59" y1="634.50" x2="689.59" y2="637.00" stroke="#8a8a8a" stroke-width="0.7" />
<line x1="693.10" y1="634.50" x2="693.10" y2="637.00" stroke="#8a8a8a" stroke-width="0.7" />
<line x1="696.62" y1="634.50" x2="696.62" y2="637.00" stroke="#8a8a8a" stroke-width="0.7" />
<line x1="700.13" y1="634.50" x2="700.13" y2="637.00" stroke="#8a8a8a" stroke-width="0.7" />
<line x1="703.64" y1="634.50" x2="703.64" y2="637.00" stroke="#8a8a8a" stroke-width="0.7" />
<line x1="707.16" y1="634.50" x2="707.16" y2="637.00" stroke="#8a8a8a" stroke-width="0.7" />
<line x1="710.67" y1="634.50" x2="710.67" y2="637.00" stroke="#8a8a8a" stroke-width="0.7" />
<line x1="714.18" y1="634.50" x2="714.18" y2="637.00" stroke="#8a8a8a" stroke-width="0.7" />
<line x1="717.69" y1="634.50" x2="717.69" y2="637.00" stroke="#8a8a8a" stroke-width="0.7" />
<line x1="721.21" y1="634.50" x2="721.21" y2="637.00" stroke="#8a8a8a" stroke-width="0.7" />
<line x1="724.72" y1="634.50" x2="724.72" y2="637.00" stroke="#8a8a8a" stroke-width="0.7" />
<line x1="728.23" y1="634.50" x2="728.23" y2="637.00" stroke="#8a8a8a" stroke-width="0.7" />
<line x1="731.75" y1="634.50" x2="731.75" y2="637.00" stroke="#8a8a8a" stroke-width="0.7" />
<line x1="735.26" y1="634.50" x2="735.26" y2="637.00" stroke="#8a8a8a" stroke-width="0.7" />
<line x1="738.77" y1="634.50" x2="738.77" y2="637.00" stroke="#8a8a8a" stroke-width="0.7" />
<line x1="742.29" y1="634.50" x2="742.29" y2="637.00" stroke="#8a8a8a" stroke-width="0.7" />
<line x1="745.80" y1="634.50" x2="745.80" y2="637.00" stroke="#8a8a8a" stroke-width="0.7" />
<text transform="translate(488.94 647.00) scale(0.95 1)" font-size="6.7" text-anchor="middle" stroke="#000" stroke-width="0.1" xml:space="preserve">8/16</text>
<text transform="translate(517.04 647.00) scale(0.95 1)" font-size="6.7" text-anchor="middle" stroke="#000" stroke-width="0.1" xml:space="preserve">9/13</text>
<text transform="translate(545.15 647.00) scale(0.95 1)" font-size="6.7" text-anchor="middle" stroke="#000" stroke-width="0.1" xml:space="preserve">10/11</text>
<text transform="translate(573.26 647.00) scale(0.95 1)" font-size="6.7" text-anchor="middle" stroke="#000" stroke-width="0.1" xml:space="preserve">11/8</text>
<text transform="translate(601.36 647.00) scale(0.95 1)" font-size="6.7" text-anchor="middle" stroke="#000" stroke-width="0.1" xml:space="preserve">12/6</text>
<text transform="translate(629.47 647.00) scale(0.95 1)" font-size="6.7" text-anchor="middle" stroke="#000" stroke-width="0.1" xml:space="preserve">1/3</text>
<text transform="translate(657.57 647.00) scale(0.95 1)" font-size="6.7" text-anchor="middle" stroke="#000" stroke-width="0.1" xml:space="preserve">1/31</text>
<text transform="translate(685.68 647.00) scale(0.95 1)" font-size="6.7" text-anchor="middle" stroke="#000" stroke-width="0.1" xml:space="preserve">2/28</text>
<text transform="translate(713.78 647.00) scale(0.95 1)" font-size="6.7" text-anchor="middle" stroke="#000" stroke-width="0.1" xml:space="preserve">3/28</text>
<text transform="translate(741.89 647.00) scale(0.95 1)" font-size="6.7" text-anchor="middle" stroke="#000" stroke-width="0.1" xml:space="preserve">4/25</text>
<rect x="533.70" y="658.70" width="3.70" height="3.70" fill="#dbe8fa" stroke="#9ab0d0" stroke-width="0.5"/>
<text transform="translate(539.60 663.10) scale(0.98 1)" font-size="6.7" stroke="#000" stroke-width="0.1" xml:space="preserve">Normal</text>
<rect x="570.40" y="658.70" width="3.70" height="3.70" fill="#3a6cb0" stroke="#2a5090" stroke-width="0.5"/>
<text transform="translate(576.20 663.10) scale(0.98 1)" font-size="6.7" stroke="#000" stroke-width="0.1" xml:space="preserve">2025-2026</text>
<rect x="615.90" y="658.70" width="3.70" height="3.70" fill="#b03030" stroke="#902020" stroke-width="0.5"/>
<text transform="translate(621.90 663.10) scale(0.98 1)" font-size="6.7" stroke="#000" stroke-width="0.1" xml:space="preserve">2024-2025</text>
<rect x="661.40" y="658.70" width="3.70" height="3.70" fill="#9ab84a" stroke="#7a983a" stroke-width="0.5"/>
<text transform="translate(666.80 663.10) scale(0.98 1)" font-size="6.7" stroke="#000" stroke-width="0.1" xml:space="preserve">Forecast</text>
<text transform="translate(44.50 972.60) scale(0.95 1)" font-size="6.7" text-anchor="end" stroke="#000" stroke-width="0.1" xml:space="preserve">0</text>
<line x1="50.40" y1="945.16" x2="374.50" y2="945.16" stroke="#ababab" stroke-width="0.75" />
<text transform="translate(44.50 947.66) scale(0.95 1)" font-size="6.7" text-anchor="end" stroke="#000" stroke-width="0.1" xml:space="preserve">50</text>
<line x1="50.40" y1="920.23" x2="374.50" y2="920.23" stroke="#ababab" stroke-width="0.75" />
<text transform="translate(44.50 922.73) scale(0.95 1)" font-size="6.7" text-anchor="end" stroke="#000" stroke-width="0.1" xml:space="preserve">100</text>
<line x1="50.40" y1="895.29" x2="374.50" y2="895.29" stroke="#ababab" stroke-width="0.75" />
<text transform="translate(44.50 897.79) scale(0.95 1)" font-size="6.7" text-anchor="end" stroke="#000" stroke-width="0.1" xml:space="preserve">150</text>
<line x1="50.40" y1="870.35" x2="374.50" y2="870.35" stroke="#ababab" stroke-width="0.75" />
<text transform="translate(44.50 872.85) scale(0.95 1)" font-size="6.7" text-anchor="end" stroke="#000" stroke-width="0.1" xml:space="preserve">200</text>
<line x1="50.40" y1="845.41" x2="374.50" y2="845.41" stroke="#ababab" stroke-width="0.75" />
<text transform="translate(44.50 847.91) scale(0.95 1)" font-size="6.7" text-anchor="end" stroke="#000" stroke-width="0.1" xml:space="preserve">250</text>
<line x1="50.40" y1="820.48" x2="374.50" y2="820.48" stroke="#ababab" stroke-width="0.75" />
<text transform="translate(44.50 822.98) scale(0.95 1)" font-size="6.7" text-anchor="end" stroke="#000" stroke-width="0.1" xml:space="preserve">300</text>
<line x1="50.40" y1="795.54" x2="374.50" y2="795.54" stroke="#ababab" stroke-width="0.75" />
<text transform="translate(44.50 798.04) scale(0.95 1)" font-size="6.7" text-anchor="end" stroke="#000" stroke-width="0.1" xml:space="preserve">350</text>
<line x1="50.40" y1="770.60" x2="374.50" y2="770.60" stroke="#ababab" stroke-width="0.75" />
<text transform="translate(44.50 773.10) scale(0.95 1)" font-size="6.7" text-anchor="end" stroke="#000" stroke-width="0.1" xml:space="preserve">400</text>
<path d="M54.66,970.10 L54.66,969.85 L63.19,968.11 L71.72,967.11 L80.25,965.61 L88.78,964.12 L97.31,957.63 L105.84,952.14 L114.37,941.67 L122.90,933.69 L131.42,927.21 L139.95,918.23 L148.48,912.39 L157.01,902.02 L165.54,892.79 L174.07,885.31 L182.60,881.52 L191.13,870.85 L199.66,856.38 L208.19,851.50 L216.71,848.60 L225.24,849.10 L233.77,842.57 L242.30,836.09 L250.83,834.44 L259.36,838.23 L267.89,841.17 L276.42,839.93 L284.95,855.59 L293.47,854.39 L302.00,862.87 L310.53,869.85 L319.06,874.34 L327.59,889.55 L336.12,902.02 L344.65,901.27 L353.18,914.74 L361.71,925.96 L370.24,932.69 L370.24,970.10 Z" fill="url(#gA)"/>
<clipPath id="c50_770"><path d="M54.66,970.10 L54.66,969.85 L63.19,968.11 L71.72,967.11 L80.25,965.61 L88.78,964.12 L97.31,957.63 L105.84,952.14 L114.37,941.67 L122.90,933.69 L131.42,927.21 L139.95,918.23 L148.48,912.39 L157.01,902.02 L165.54,892.79 L174.07,885.31 L182.60,881.52 L191.13,870.85 L199.66,856.38 L208.19,851.50 L216.71,848.60 L225.24,849.10 L233.77,842.57 L242.30,836.09 L250.83,834.44 L259.36,838.23 L267.89,841.17 L276.42,839.93 L284.95,855.59 L293.47,854.39 L302.00,862.87 L310.53,869.85 L319.06,874.34 L327.59,889.55 L336.12,902.02 L344.65,901.27 L353.18,914.74 L361.71,925.96 L370.24,932.69 L370.24,970.10 Z"/></clipPath>
<path d="M54.66,971.15 L63.19,969.40 L71.72,968.41 L80.25,966.91 L88.78,965.41 L97.31,958.93 L105.84,953.44 L114.37,942.97 L122.90,934.99 L131.42,928.51 L139.95,919.53 L148.48,913.69 L157.01,903.32 L165.54,894.09 L174.07,886.61 L182.60,882.82 L191.13,872.15 L199.66,857.68 L208.19,852.80 L216.71,849.90 L225.24,850.40 L233.77,843.87 L242.30,837.39 L250.83,835.74 L259.36,839.53 L267.89,842.47 L276.42,841.23 L284.95,856.89 L293.47,855.69 L302.00,864.17 L310.53,871.15 L319.06,875.64 L327.59,890.85 L336.12,903.32 L344.65,902.57 L353.18,916.04 L361.71,927.26 L370.24,933.99" fill="none" stroke="#e3eefc" stroke-opacity="0.85" stroke-width="1.5" stroke-linejoin="round" clip-path="url(#c50_770)"/>
<line x1="369.54" y1="933.69" x2="369.54" y2="970.10" stroke="#86a6d4" stroke-opacity="0.7" stroke-width="1.3"/>
<path d="M54.66,969.85 L63.19,968.11 L71.72,967.11 L80.25,965.61 L88.78,964.12 L97.31,957.63 L105.84,952.14 L114.37,941.67 L122.90,933.69 L131.42,927.21 L139.95,918.23 L148.48,912.39 L157.01,902.02 L165.54,892.79 L174.07,885.31 L182.60,881.52 L191.13,870.85 L199.66,856.38 L208.19,851.50 L216.71,848.60 L225.24,849.10 L233.77,842.57 L242.30,836.09 L250.83,834.44 L259.36,838.23 L267.89,841.17 L276.42,839.93 L284.95,855.59 L293.47,854.39 L302.00,862.87 L310.53,869.85 L319.06,874.34 L327.59,889.55 L336.12,902.02 L344.65,901.27 L353.18,914.74 L361.71,925.96 L370.24,932.69 L370.24,970.10" fill="none" stroke="#7f9bc2" stroke-width="0.6" stroke-linejoin="round"/>
<rect x="60.19" y="969.10" width="2.00" height="1.00" fill="url(#gB)" />
<rect x="68.72" y="962.27" width="2.00" height="7.83" fill="url(#gB)" />
<rect x="77.25" y="966.61" width="2.00" height="3.49" fill="url(#gB)" />
<rect x="85.78" y="960.62" width="2.00" height="9.48" fill="url(#gB)" />
<rect x="94.31" y="968.11" width="2.00" height="2.00" fill="url(#gB)" />
<rect x="102.84" y="966.11" width="2.00" height="3.99" fill="url(#gB)" />
<rect x="111.37" y="956.63" width="2.00" height="13.47" fill="url(#gB)" />
<rect x="119.90" y="947.16" width="2.00" height="22.94" fill="url(#gB)" />
<rect x="128.42" y="931.20" width="2.00" height="38.90" fill="url(#gB)" />
<rect x="136.95" y="924.02" width="2.00" height="46.08" fill="url(#gB)" />
<rect x="145.48" y="907.26" width="2.00" height="62.84" fill="url(#gB)" />
<rect x="154.01" y="905.76" width="2.00" height="64.34" fill="url(#gB)" />
<rect x="162.54" y="886.31" width="2.00" height="83.79" fill="url(#gB)" />
<rect x="171.07" y="880.08" width="2.00" height="90.02" fill="url(#gB)" />
<rect x="179.60" y="880.82" width="2.00" height="89.28" fill="url(#gB)" />
<rect x="62.19" y="965.11" width="2.00" height="4.99" fill="url(#gR)" />
<rect x="70.72" y="969.85" width="2.00" height="0.25" fill="url(#gR)" />
<rect x="79.25" y="963.27" width="2.00" height="6.83" fill="url(#gR)" />
<rect x="87.78" y="962.27" width="2.00" height="7.83" fill="url(#gR)" />
<rect x="96.31" y="969.85" width="2.00" height="0.25" fill="url(#gR)" />
<rect x="104.84" y="963.27" width="2.00" height="6.83" fill="url(#gR)" />
<rect x="113.37" y="961.27" width="2.00" height="8.83" fill="url(#gR)" />
<rect x="121.90" y="934.69" width="2.00" height="35.41" fill="url(#gR)" />
<rect x="130.42" y="917.43" width="2.00" height="52.67" fill="url(#gR)" />
<rect x="138.95" y="938.68" width="2.00" height="31.42" fill="url(#gR)" />
<rect x="147.48" y="930.20" width="2.00" height="39.90" fill="url(#gR)" />
<rect x="156.01" y="925.01" width="2.00" height="45.09" fill="url(#gR)" />
<rect x="164.54" y="896.14" width="2.00" height="73.96" fill="url(#gR)" />
<rect x="173.07" y="899.28" width="2.00" height="70.82" fill="url(#gR)" />
<rect x="181.60" y="880.33" width="2.00" height="89.77" fill="url(#gR)" />
<rect x="190.13" y="844.41" width="2.00" height="125.69" fill="url(#gR)" />
<rect x="198.66" y="867.86" width="2.00" height="102.24" fill="url(#gR)" />
<rect x="207.19" y="862.37" width="2.00" height="107.73" fill="url(#gR)" />
<rect x="215.71" y="828.46" width="2.00" height="141.64" fill="url(#gR)" />
<rect x="224.24" y="876.34" width="2.00" height="93.76" fill="url(#gR)" />
<rect x="232.77" y="827.21" width="2.00" height="142.89" fill="url(#gR)" />
<rect x="241.30" y="837.43" width="2.00" height="132.67" fill="url(#gR)" />
<rect x="249.83" y="801.52" width="2.00" height="168.58" fill="url(#gR)" />
<rect x="258.36" y="846.91" width="2.00" height="123.19" fill="url(#gR)" />
<rect x="266.89" y="841.42" width="2.00" height="128.68" fill="url(#gR)" />
<rect x="275.42" y="840.67" width="2.00" height="129.43" fill="url(#gR)" />
<rect x="283.95" y="826.46" width="2.00" height="143.64" fill="url(#gR)" />
<rect x="292.47" y="880.33" width="2.00" height="89.77" fill="url(#gR)" />
<rect x="301.00" y="864.56" width="2.00" height="105.54" fill="url(#gR)" />
<rect x="309.53" y="896.78" width="2.00" height="73.32" fill="url(#gR)" />
<rect x="318.06" y="907.26" width="2.00" height="62.84" fill="url(#gR)" />
<rect x="326.59" y="890.80" width="2.00" height="79.30" fill="url(#gR)" />
<rect x="335.12" y="914.24" width="2.00" height="55.86" fill="url(#gR)" />
<rect x="343.65" y="882.07" width="2.00" height="88.03" fill="url(#gR)" />
<rect x="352.18" y="919.23" width="2.00" height="50.87" fill="url(#gR)" />
<rect x="360.71" y="946.91" width="2.00" height="23.19" fill="url(#gR)" />
<rect x="369.24" y="948.40" width="2.00" height="21.70" fill="url(#gR)" />
<rect x="192.13" y="855.89" width="2.00" height="114.21" fill="url(#gG)" />
<line x1="50.40" y1="770.60" x2="50.40" y2="972.60" stroke="#8a8a8a" stroke-width="0.8" />
<line x1="50.40" y1="970.10" x2="374.50" y2="970.10" stroke="#8a8a8a" stroke-width="0.9" />
<line x1="50.40" y1="970.10" x2="50.40" y2="972.60" stroke="#8a8a8a" stroke-width="0.7" />
<line x1="58.93" y1="970.10" x2="58.93" y2="972.60" stroke="#8a8a8a" stroke-width="0.7" />
<line x1="67.46" y1="970.10" x2="67.46" y2="972.60" stroke="#8a8a8a" stroke-width="0.7" />
<line x1="75.99" y1="970.10" x2="75.99" y2="972.60" stroke="#8a8a8a" stroke-width="0.7" />
<line x1="84.52" y1="970.10" x2="84.52" y2="972.60" stroke="#8a8a8a" stroke-width="0.7" />
<line x1="93.04" y1="970.10" x2="93.04" y2="972.60" stroke="#8a8a8a" stroke-width="0.7" />
<line x1="101.57" y1="970.10" x2="101.57" y2="972.60" stroke="#8a8a8a" stroke-width="0.7" />
<line x1="110.10" y1="970.10" x2="110.10" y2="972.60" stroke="#8a8a8a" stroke-width="0.7" />
<line x1="118.63" y1="970.10" x2="118.63" y2="972.60" stroke="#8a8a8a" stroke-width="0.7" />
<line x1="127.16" y1="970.10" x2="127.16" y2="972.60" stroke="#8a8a8a" stroke-width="0.7" />
<line x1="135.69" y1="970.10" x2="135.69" y2="972.60" stroke="#8a8a8a" stroke-width="0.7" />
<line x1="144.22" y1="970.10" x2="144.22" y2="972.60" stroke="#8a8a8a" stroke-width="0.7" />
<line x1="152.75" y1="970.10" x2="152.75" y2="972.60" stroke="#8a8a8a" stroke-width="0.7" />
<line x1="161.28" y1="970.10" x2="161.28" y2="972.60" stroke="#8a8a8a" stroke-width="0.7" />
<line x1="169.81" y1="970.10" x2="169.81" y2="972.60" stroke="#8a8a8a" stroke-width="0.7" />
<line x1="178.33" y1="970.10" x2="178.33" y2="972.60" stroke="#8a8a8a" stroke-width="0.7" />
<line x1="186.86" y1="970.10" x2="186.86" y2="972.60" stroke="#8a8a8a" stroke-width="0.7" />
<line x1="195.39" y1="970.10" x2="195.39" y2="972.60" stroke="#8a8a8a" stroke-width="0.7" />
<line x1="203.92" y1="970.10" x2="203.92" y2="972.60" stroke="#8a8a8a" stroke-width="0.7" />
<line x1="212.45" y1="970.10" x2="212.45" y2="972.60" stroke="#8a8a8a" stroke-width="0.7" />
<line x1="220.98" y1="970.10" x2="220.98" y2="972.60" stroke="#8a8a8a" stroke-width="0.7" />
<line x1="229.51" y1="970.10" x2="229.51" y2="972.60" stroke="#8a8a8a" stroke-width="0.7" />
<line x1="238.04" y1="970.10" x2="238.04" y2="972.60" stroke="#8a8a8a" stroke-width="0.7" />
<line x1="246.57" y1="970.10" x2="246.57" y2="972.60" stroke="#8a8a8a" stroke-width="0.7" />
<line x1="255.09" y1="970.10" x2="255.09" y2="972.60" stroke="#8a8a8a" stroke-width="0.7" />
<line x1="263.62" y1="970.10" x2="263.62" y2="972.60" stroke="#8a8a8a" stroke-width="0.7" />
<line x1="272.15" y1="970.10" x2="272.15" y2="972.60" stroke="#8a8a8a" stroke-width="0.7" />
<line x1="280.68" y1="970.10" x2="280.68" y2="972.60" stroke="#8a8a8a" stroke-width="0.7" />
<line x1="289.21" y1="970.10" x2="289.21" y2="972.60" stroke="#8a8a8a" stroke-width="0.7" />
<line x1="297.74" y1="970.10" x2="297.74" y2="972.60" stroke="#8a8a8a" stroke-width="0.7" />
<line x1="306.27" y1="970.10" x2="306.27" y2="972.60" stroke="#8a8a8a" stroke-width="0.7" />
<line x1="314.80" y1="970.10" x2="314.80" y2="972.60" stroke="#8a8a8a" stroke-width="0.7" />
<line x1="323.33" y1="970.10" x2="323.33" y2="972.60" stroke="#8a8a8a" stroke-width="0.7" />
<line x1="331.86" y1="970.10" x2="331.86" y2="972.60" stroke="#8a8a8a" stroke-width="0.7" />
<line x1="340.38" y1="970.10" x2="340.38" y2="972.60" stroke="#8a8a8a" stroke-width="0.7" />
<line x1="348.91" y1="970.10" x2="348.91" y2="972.60" stroke="#8a8a8a" stroke-width="0.7" />
<line x1="357.44" y1="970.10" x2="357.44" y2="972.60" stroke="#8a8a8a" stroke-width="0.7" />
<line x1="365.97" y1="970.10" x2="365.97" y2="972.60" stroke="#8a8a8a" stroke-width="0.7" />
<line x1="374.50" y1="970.10" x2="374.50" y2="972.60" stroke="#8a8a8a" stroke-width="0.7" />
<text transform="translate(61.69 982.60) scale(0.95 1)" font-size="6.7" text-anchor="middle" stroke="#000" stroke-width="0.1" xml:space="preserve">8/16</text>
<text transform="translate(95.81 982.60) scale(0.95 1)" font-size="6.7" text-anchor="middle" stroke="#000" stroke-width="0.1" xml:space="preserve">9/13</text>
<text transform="translate(129.92 982.60) scale(0.95 1)" font-size="6.7" text-anchor="middle" stroke="#000" stroke-width="0.1" xml:space="preserve">10/11</text>
<text transform="translate(164.04 982.60) scale(0.95 1)" font-size="6.7" text-anchor="middle" stroke="#000" stroke-width="0.1" xml:space="preserve">11/8</text>
<text transform="translate(198.16 982.60) scale(0.95 1)" font-size="6.7" text-anchor="middle" stroke="#000" stroke-width="0.1" xml:space="preserve">12/6</text>
<text transform="translate(232.27 982.60) scale(0.95 1)" font-size="6.7" text-anchor="middle" stroke="#000" stroke-width="0.1" xml:space="preserve">1/3</text>
<text transform="translate(266.39 982.60) scale(0.95 1)" font-size="6.7" text-anchor="middle" stroke="#000" stroke-width="0.1" xml:space="preserve">1/31</text>
<text transform="translate(300.50 982.60) scale(0.95 1)" font-size="6.7" text-anchor="middle" stroke="#000" stroke-width="0.1" xml:space="preserve">2/28</text>
<text transform="translate(334.62 982.60) scale(0.95 1)" font-size="6.7" text-anchor="middle" stroke="#000" stroke-width="0.1" xml:space="preserve">3/28</text>
<text transform="translate(368.74 982.60) scale(0.95 1)" font-size="6.7" text-anchor="middle" stroke="#000" stroke-width="0.1" xml:space="preserve">4/25</text>
<rect x="127.20" y="993.90" width="3.70" height="3.70" fill="#dbe8fa" stroke="#9ab0d0" stroke-width="0.5"/>
<text transform="translate(133.20 998.30) scale(0.98 1)" font-size="6.7" stroke="#000" stroke-width="0.1" xml:space="preserve">Normal</text>
<rect x="168.70" y="993.90" width="3.70" height="3.70" fill="#3a6cb0" stroke="#2a5090" stroke-width="0.5"/>
<text transform="translate(175.30 998.30) scale(0.98 1)" font-size="6.7" stroke="#000" stroke-width="0.1" xml:space="preserve">2025-2026</text>
<rect x="221.10" y="993.90" width="3.70" height="3.70" fill="#b03030" stroke="#902020" stroke-width="0.5"/>
<text transform="translate(227.20 998.30) scale(0.98 1)" font-size="6.7" stroke="#000" stroke-width="0.1" xml:space="preserve">2024-2025</text>
<rect x="272.90" y="993.90" width="3.70" height="3.70" fill="#9ab84a" stroke="#7a983a" stroke-width="0.5"/>
<text transform="translate(279.00 998.30) scale(0.98 1)" font-size="6.7" stroke="#000" stroke-width="0.1" xml:space="preserve">Forecast</text>
<text transform="translate(472.30 972.00) scale(0.95 1)" font-size="6.7" text-anchor="end" stroke="#000" stroke-width="0.1" xml:space="preserve">0</text>
<line x1="478.80" y1="936.00" x2="749.70" y2="936.00" stroke="#ababab" stroke-width="0.75" />
<text transform="translate(472.30 938.50) scale(0.95 1)" font-size="6.7" text-anchor="end" stroke="#000" stroke-width="0.1" xml:space="preserve">1,000</text>
<line x1="478.80" y1="902.50" x2="749.70" y2="902.50" stroke="#ababab" stroke-width="0.75" />
<text transform="translate(472.30 905.00) scale(0.95 1)" font-size="6.7" text-anchor="end" stroke="#000" stroke-width="0.1" xml:space="preserve">2,000</text>
<line x1="478.80" y1="869.00" x2="749.70" y2="869.00" stroke="#ababab" stroke-width="0.75" />
<text transform="translate(472.30 871.50) scale(0.95 1)" font-size="6.7" text-anchor="end" stroke="#000" stroke-width="0.1" xml:space="preserve">3,000</text>
<line x1="478.80" y1="835.50" x2="749.70" y2="835.50" stroke="#ababab" stroke-width="0.75" />
<text transform="translate(472.30 838.00) scale(0.95 1)" font-size="6.7" text-anchor="end" stroke="#000" stroke-width="0.1" xml:space="preserve">4,000</text>
<line x1="478.80" y1="802.00" x2="749.70" y2="802.00" stroke="#ababab" stroke-width="0.75" />
<text transform="translate(472.30 804.50) scale(0.95 1)" font-size="6.7" text-anchor="end" stroke="#000" stroke-width="0.1" xml:space="preserve">5,000</text>
<line x1="478.80" y1="768.50" x2="749.70" y2="768.50" stroke="#ababab" stroke-width="0.75" />
<text transform="translate(472.30 771.00) scale(0.95 1)" font-size="6.7" text-anchor="end" stroke="#000" stroke-width="0.1" xml:space="preserve">6,000</text>
<path d="M482.36,969.50 L482.36,969.48 L489.49,969.35 L496.62,969.15 L503.75,968.84 L510.88,968.44 L518.01,967.59 L525.14,966.38 L532.27,964.45 L539.40,961.98 L546.52,959.08 L553.65,955.57 L560.78,951.66 L567.91,947.05 L575.04,941.81 L582.17,936.07 L589.30,930.07 L596.43,923.35 L603.56,915.65 L610.69,907.61 L617.81,899.38 L624.94,891.19 L632.07,882.55 L639.20,873.48 L646.33,864.29 L653.46,855.36 L660.59,846.63 L667.72,837.81 L674.85,830.05 L681.98,822.22 L689.10,814.95 L696.23,808.16 L703.36,801.68 L710.49,796.22 L717.62,791.61 L724.75,786.95 L731.88,783.20 L739.01,780.21 L746.14,777.68 L746.14,969.50 Z" fill="url(#gA)"/>
<clipPath id="c478_768"><path d="M482.36,969.50 L482.36,969.48 L489.49,969.35 L496.62,969.15 L503.75,968.84 L510.88,968.44 L518.01,967.59 L525.14,966.38 L532.27,964.45 L539.40,961.98 L546.52,959.08 L553.65,955.57 L560.78,951.66 L567.91,947.05 L575.04,941.81 L582.17,936.07 L589.30,930.07 L596.43,923.35 L603.56,915.65 L610.69,907.61 L617.81,899.38 L624.94,891.19 L632.07,882.55 L639.20,873.48 L646.33,864.29 L653.46,855.36 L660.59,846.63 L667.72,837.81 L674.85,830.05 L681.98,822.22 L689.10,814.95 L696.23,808.16 L703.36,801.68 L710.49,796.22 L717.62,791.61 L724.75,786.95 L731.88,783.20 L739.01,780.21 L746.14,777.68 L746.14,969.50 Z"/></clipPath>
<path d="M482.36,970.78 L489.49,970.65 L496.62,970.45 L503.75,970.14 L510.88,969.74 L518.01,968.89 L525.14,967.68 L532.27,965.75 L539.40,963.28 L546.52,960.38 L553.65,956.87 L560.78,952.96 L567.91,948.35 L575.04,943.11 L582.17,937.37 L589.30,931.37 L596.43,924.65 L603.56,916.95 L610.69,908.91 L617.81,900.68 L624.94,892.49 L632.07,883.85 L639.20,874.78 L646.33,865.59 L653.46,856.66 L660.59,847.93 L667.72,839.11 L674.85,831.35 L681.98,823.52 L689.10,816.25 L696.23,809.46 L703.36,802.98 L710.49,797.52 L717.62,792.91 L724.75,788.25 L731.88,784.50 L739.01,781.51 L746.14,778.98" fill="none" stroke="#e3eefc" stroke-opacity="0.85" stroke-width="1.5" stroke-linejoin="round" clip-path="url(#c478_768)"/>
<line x1="745.44" y1="778.68" x2="745.44" y2="969.50" stroke="#86a6d4" stroke-opacity="0.7" stroke-width="1.3"/>
<path d="M482.36,969.48 L489.49,969.35 L496.62,969.15 L503.75,968.84 L510.88,968.44 L518.01,967.59 L525.14,966.38 L532.27,964.45 L539.40,961.98 L546.52,959.08 L553.65,955.57 L560.78,951.66 L567.91,947.05 L575.04,941.81 L582.17,936.07 L589.30,930.07 L596.43,923.35 L603.56,915.65 L610.69,907.61 L617.81,899.38 L624.94,891.19 L632.07,882.55 L639.20,873.48 L646.33,864.29 L653.46,855.36 L660.59,846.63 L667.72,837.81 L674.85,830.05 L681.98,822.22 L689.10,814.95 L696.23,808.16 L703.36,801.68 L710.49,796.22 L717.62,791.61 L724.75,786.95 L731.88,783.20 L739.01,780.21 L746.14,777.68 L746.14,969.50" fill="none" stroke="#7f9bc2" stroke-width="0.6" stroke-linejoin="round"/>
<rect x="479.66" y="969.33" width="1.80" height="0.17" fill="url(#gB)" />
<rect x="486.79" y="969.27" width="1.80" height="0.23" fill="url(#gB)" />
<rect x="493.92" y="968.74" width="1.80" height="0.76" fill="url(#gB)" />
<rect x="501.05" y="968.51" width="1.80" height="0.99" fill="url(#gB)" />
<rect x="508.18" y="967.87" width="1.80" height="1.63" fill="url(#gB)" />
<rect x="515.31" y="967.73" width="1.80" height="1.77" fill="url(#gB)" />
<rect x="522.44" y="967.47" width="1.80" height="2.03" fill="url(#gB)" />
<rect x="529.57" y="966.56" width="1.80" height="2.94" fill="url(#gB)" />
<rect x="536.70" y="965.02" width="1.80" height="4.48" fill="url(#gB)" />
<rect x="543.82" y="962.41" width="1.80" height="7.09" fill="url(#gB)" />
<rect x="550.95" y="959.31" width="1.80" height="10.19" fill="url(#gB)" />
<rect x="558.08" y="955.09" width="1.80" height="14.41" fill="url(#gB)" />
<rect x="565.21" y="950.77" width="1.80" height="18.73" fill="url(#gB)" />
<rect x="572.34" y="945.14" width="1.80" height="24.36" fill="url(#gB)" />
<rect x="579.47" y="939.10" width="1.80" height="30.40" fill="url(#gB)" />
<rect x="586.60" y="933.10" width="1.80" height="36.40" fill="url(#gB)" />
<rect x="481.46" y="969.33" width="1.80" height="0.17" fill="url(#gR)" />
<rect x="488.59" y="968.99" width="1.80" height="0.51" fill="url(#gR)" />
<rect x="495.72" y="968.98" width="1.80" height="0.52" fill="url(#gR)" />
<rect x="502.85" y="968.51" width="1.80" height="0.99" fill="url(#gR)" />
<rect x="509.98" y="967.98" width="1.80" height="1.52" fill="url(#gR)" />
<rect x="517.11" y="967.97" width="1.80" height="1.53" fill="url(#gR)" />
<rect x="524.24" y="967.50" width="1.80" height="2.00" fill="url(#gR)" />
<rect x="531.37" y="966.90" width="1.80" height="2.60" fill="url(#gR)" />
<rect x="538.50" y="964.50" width="1.80" height="5.00" fill="url(#gR)" />
<rect x="545.62" y="960.93" width="1.80" height="8.57" fill="url(#gR)" />
<rect x="552.75" y="958.80" width="1.80" height="10.70" fill="url(#gR)" />
<rect x="559.88" y="956.10" width="1.80" height="13.40" fill="url(#gR)" />
<rect x="567.01" y="953.04" width="1.80" height="16.46" fill="url(#gR)" />
<rect x="574.14" y="948.03" width="1.80" height="21.47" fill="url(#gR)" />
<rect x="581.27" y="943.23" width="1.80" height="26.27" fill="url(#gR)" />
<rect x="588.40" y="937.14" width="1.80" height="32.36" fill="url(#gR)" />
<rect x="595.53" y="928.63" width="1.80" height="40.87" fill="url(#gR)" />
<rect x="602.66" y="921.70" width="1.80" height="47.80" fill="url(#gR)" />
<rect x="609.79" y="914.39" width="1.80" height="55.11" fill="url(#gR)" />
<rect x="616.91" y="904.79" width="1.80" height="64.71" fill="url(#gR)" />
<rect x="624.04" y="898.44" width="1.80" height="71.06" fill="url(#gR)" />
<rect x="631.17" y="888.75" width="1.80" height="80.75" fill="url(#gR)" />
<rect x="638.30" y="879.76" width="1.80" height="89.74" fill="url(#gR)" />
<rect x="645.43" y="868.33" width="1.80" height="101.17" fill="url(#gR)" />
<rect x="652.56" y="859.98" width="1.80" height="109.52" fill="url(#gR)" />
<rect x="659.69" y="851.26" width="1.80" height="118.24" fill="url(#gR)" />
<rect x="666.82" y="842.49" width="1.80" height="127.01" fill="url(#gR)" />
<rect x="673.95" y="832.75" width="1.80" height="136.75" fill="url(#gR)" />
<rect x="681.08" y="826.67" width="1.80" height="142.83" fill="url(#gR)" />
<rect x="688.20" y="819.51" width="1.80" height="149.99" fill="url(#gR)" />
<rect x="695.33" y="814.55" width="1.80" height="154.95" fill="url(#gR)" />
<rect x="702.46" y="810.29" width="1.80" height="159.21" fill="url(#gR)" />
<rect x="709.59" y="804.91" width="1.80" height="164.59" fill="url(#gR)" />
<rect x="716.72" y="801.12" width="1.80" height="168.38" fill="url(#gR)" />
<rect x="723.85" y="795.16" width="1.80" height="174.34" fill="url(#gR)" />
<rect x="730.98" y="791.71" width="1.80" height="177.79" fill="url(#gR)" />
<rect x="738.11" y="790.14" width="1.80" height="179.36" fill="url(#gR)" />
<rect x="745.24" y="788.67" width="1.80" height="180.83" fill="url(#gR)" />
<rect x="597.33" y="925.56" width="1.80" height="43.94" fill="url(#gG)" />
<line x1="478.80" y1="969.50" x2="749.70" y2="969.50" stroke="#8a8a8a" stroke-width="0.9" />
<line x1="478.80" y1="969.50" x2="478.80" y2="972.00" stroke="#8a8a8a" stroke-width="0.7" />
<line x1="485.93" y1="969.50" x2="485.93" y2="972.00" stroke="#8a8a8a" stroke-width="0.7" />
<line x1="493.06" y1="969.50" x2="493.06" y2="972.00" stroke="#8a8a8a" stroke-width="0.7" />
<line x1="500.19" y1="969.50" x2="500.19" y2="972.00" stroke="#8a8a8a" stroke-width="0.7" />
<line x1="507.32" y1="969.50" x2="507.32" y2="972.00" stroke="#8a8a8a" stroke-width="0.7" />
<line x1="514.44" y1="969.50" x2="514.44" y2="972.00" stroke="#8a8a8a" stroke-width="0.7" />
<line x1="521.57" y1="969.50" x2="521.57" y2="972.00" stroke="#8a8a8a" stroke-width="0.7" />
<line x1="528.70" y1="969.50" x2="528.70" y2="972.00" stroke="#8a8a8a" stroke-width="0.7" />
<line x1="535.83" y1="969.50" x2="535.83" y2="972.00" stroke="#8a8a8a" stroke-width="0.7" />
<line x1="542.96" y1="969.50" x2="542.96" y2="972.00" stroke="#8a8a8a" stroke-width="0.7" />
<line x1="550.09" y1="969.50" x2="550.09" y2="972.00" stroke="#8a8a8a" stroke-width="0.7" />
<line x1="557.22" y1="969.50" x2="557.22" y2="972.00" stroke="#8a8a8a" stroke-width="0.7" />
<line x1="564.35" y1="969.50" x2="564.35" y2="972.00" stroke="#8a8a8a" stroke-width="0.7" />
<line x1="571.48" y1="969.50" x2="571.48" y2="972.00" stroke="#8a8a8a" stroke-width="0.7" />
<line x1="578.61" y1="969.50" x2="578.61" y2="972.00" stroke="#8a8a8a" stroke-width="0.7" />
<line x1="585.73" y1="969.50" x2="585.73" y2="972.00" stroke="#8a8a8a" stroke-width="0.7" />
<line x1="592.86" y1="969.50" x2="592.86" y2="972.00" stroke="#8a8a8a" stroke-width="0.7" />
<line x1="599.99" y1="969.50" x2="599.99" y2="972.00" stroke="#8a8a8a" stroke-width="0.7" />
<line x1="607.12" y1="969.50" x2="607.12" y2="972.00" stroke="#8a8a8a" stroke-width="0.7" />
<line x1="614.25" y1="969.50" x2="614.25" y2="972.00" stroke="#8a8a8a" stroke-width="0.7" />
<line x1="621.38" y1="969.50" x2="621.38" y2="972.00" stroke="#8a8a8a" stroke-width="0.7" />
<line x1="628.51" y1="969.50" x2="628.51" y2="972.00" stroke="#8a8a8a" stroke-width="0.7" />
<line x1="635.64" y1="969.50" x2="635.64" y2="972.00" stroke="#8a8a8a" stroke-width="0.7" />
<line x1="642.77" y1="969.50" x2="642.77" y2="972.00" stroke="#8a8a8a" stroke-width="0.7" />
<line x1="649.89" y1="969.50" x2="649.89" y2="972.00" stroke="#8a8a8a" stroke-width="0.7" />
<line x1="657.02" y1="969.50" x2="657.02" y2="972.00" stroke="#8a8a8a" stroke-width="0.7" />
<line x1="664.15" y1="969.50" x2="664.15" y2="972.00" stroke="#8a8a8a" stroke-width="0.7" />
<line x1="671.28" y1="969.50" x2="671.28" y2="972.00" stroke="#8a8a8a" stroke-width="0.7" />
<line x1="678.41" y1="969.50" x2="678.41" y2="972.00" stroke="#8a8a8a" stroke-width="0.7" />
<line x1="685.54" y1="969.50" x2="685.54" y2="972.00" stroke="#8a8a8a" stroke-width="0.7" />
<line x1="692.67" y1="969.50" x2="692.67" y2="972.00" stroke="#8a8a8a" stroke-width="0.7" />
<line x1="699.80" y1="969.50" x2="699.80" y2="972.00" stroke="#8a8a8a" stroke-width="0.7" />
<line x1="706.93" y1="969.50" x2="706.93" y2="972.00" stroke="#8a8a8a" stroke-width="0.7" />
<line x1="714.06" y1="969.50" x2="714.06" y2="972.00" stroke="#8a8a8a" stroke-width="0.7" />
<line x1="721.18" y1="969.50" x2="721.18" y2="972.00" stroke="#8a8a8a" stroke-width="0.7" />
<line x1="728.31" y1="969.50" x2="728.31" y2="972.00" stroke="#8a8a8a" stroke-width="0.7" />
<line x1="735.44" y1="969.50" x2="735.44" y2="972.00" stroke="#8a8a8a" stroke-width="0.7" />
<line x1="742.57" y1="969.50" x2="742.57" y2="972.00" stroke="#8a8a8a" stroke-width="0.7" />
<line x1="749.70" y1="969.50" x2="749.70" y2="972.00" stroke="#8a8a8a" stroke-width="0.7" />
<text transform="translate(489.09 981.30) scale(0.95 1)" font-size="6.7" text-anchor="middle" stroke="#000" stroke-width="0.1" xml:space="preserve">8/16</text>
<text transform="translate(517.61 981.30) scale(0.95 1)" font-size="6.7" text-anchor="middle" stroke="#000" stroke-width="0.1" xml:space="preserve">9/13</text>
<text transform="translate(546.12 981.30) scale(0.95 1)" font-size="6.7" text-anchor="middle" stroke="#000" stroke-width="0.1" xml:space="preserve">10/11</text>
<text transform="translate(574.64 981.30) scale(0.95 1)" font-size="6.7" text-anchor="middle" stroke="#000" stroke-width="0.1" xml:space="preserve">11/8</text>
<text transform="translate(603.16 981.30) scale(0.95 1)" font-size="6.7" text-anchor="middle" stroke="#000" stroke-width="0.1" xml:space="preserve">12/6</text>
<text transform="translate(631.67 981.30) scale(0.95 1)" font-size="6.7" text-anchor="middle" stroke="#000" stroke-width="0.1" xml:space="preserve">1/3</text>
<text transform="translate(660.19 981.30) scale(0.95 1)" font-size="6.7" text-anchor="middle" stroke="#000" stroke-width="0.1" xml:space="preserve">1/31</text>
<text transform="translate(688.70 981.30) scale(0.95 1)" font-size="6.7" text-anchor="middle" stroke="#000" stroke-width="0.1" xml:space="preserve">2/28</text>
<text transform="translate(717.22 981.30) scale(0.95 1)" font-size="6.7" text-anchor="middle" stroke="#000" stroke-width="0.1" xml:space="preserve">3/28</text>
<text transform="translate(745.74 981.30) scale(0.95 1)" font-size="6.7" text-anchor="middle" stroke="#000" stroke-width="0.1" xml:space="preserve">4/25</text>
<rect x="533.70" y="994.40" width="3.70" height="3.70" fill="#dbe8fa" stroke="#9ab0d0" stroke-width="0.5"/>
<text transform="translate(539.60 998.80) scale(0.98 1)" font-size="6.7" stroke="#000" stroke-width="0.1" xml:space="preserve">Normal</text>
<rect x="569.90" y="994.40" width="3.70" height="3.70" fill="#3a6cb0" stroke="#2a5090" stroke-width="0.5"/>
<text transform="translate(576.00 998.80) scale(0.98 1)" font-size="6.7" stroke="#000" stroke-width="0.1" xml:space="preserve">2025-2026</text>
<rect x="615.40" y="994.40" width="3.70" height="3.70" fill="#b03030" stroke="#902020" stroke-width="0.5"/>
<text transform="translate(621.60 998.80) scale(0.98 1)" font-size="6.7" stroke="#000" stroke-width="0.1" xml:space="preserve">2024-2025</text>
<rect x="661.40" y="994.40" width="3.70" height="3.70" fill="#9ab84a" stroke="#7a983a" stroke-width="0.5"/>
<text transform="translate(666.80 998.80) scale(0.98 1)" font-size="6.7" stroke="#000" stroke-width="0.1" xml:space="preserve">Forecast</text>
<line x1="31.30" y1="1011.70" x2="765.00" y2="1011.70" stroke="#4d4d4d" stroke-width="1.7" />
<text x="398.00" y="1020.00" font-size="6.5" text-anchor="middle" textLength="256.00" lengthAdjust="spacingAndGlyphs" xml:space="preserve">Source: NOAA. Data are from sources considered reliable. Accuracy is not guaranteed.</text>
</svg>
</body></html>
